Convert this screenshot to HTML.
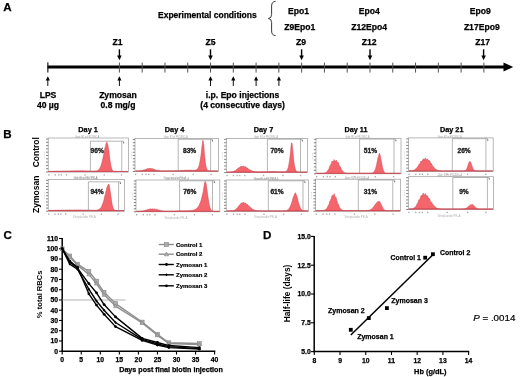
<!DOCTYPE html>
<html><head><meta charset="utf-8"><style>
html,body{margin:0;padding:0;background:#fff;}
svg{display:block;font-family:"Liberation Sans", sans-serif;will-change:transform;}
</style></head><body>
<svg width="520" height="377" viewBox="0 0 520 377">
<rect width="520" height="377" fill="#fff"/>
<text x="3.2" y="11.2" font-size="11.6" font-weight="bold" text-anchor="start" fill="#000" stroke="#000" stroke-width="0.25" >A</text>
<text x="158" y="18.3" font-size="8.5" font-weight="bold" text-anchor="start" fill="#000" stroke="#000" stroke-width="0.25" >Experimental conditions</text>
<path d="M275.6,1.3 Q271.6,1.6 271.6,6 L271.6,14.5 Q271.6,18.3 268.4,18.5 Q271.6,18.7 271.6,22.5 L271.6,31 Q271.6,35.4 275.6,35.6" fill="none" stroke="#222" stroke-width="0.9"/>
<text x="298.6" y="14.2" font-size="8.6" font-weight="bold" text-anchor="middle" fill="#000" stroke="#000" stroke-width="0.25" >Epo1</text>
<text x="299.8" y="30.3" font-size="8.6" font-weight="bold" text-anchor="middle" fill="#000" stroke="#000" stroke-width="0.25" >Z9Epo1</text>
<text x="369.2" y="14.2" font-size="8.6" font-weight="bold" text-anchor="middle" fill="#000" stroke="#000" stroke-width="0.25" >Epo4</text>
<text x="369.2" y="30.3" font-size="8.6" font-weight="bold" text-anchor="middle" fill="#000" stroke="#000" stroke-width="0.25" >Z12Epo4</text>
<text x="480.3" y="14.2" font-size="8.6" font-weight="bold" text-anchor="middle" fill="#000" stroke="#000" stroke-width="0.25" >Epo9</text>
<text x="481.8" y="30.3" font-size="8.6" font-weight="bold" text-anchor="middle" fill="#000" stroke="#000" stroke-width="0.25" >Z17Epo9</text>
<text x="117.5" y="45.3" font-size="8.6" font-weight="bold" text-anchor="middle" fill="#000" stroke="#000" stroke-width="0.25" >Z1</text>
<text x="210.5" y="45.3" font-size="8.6" font-weight="bold" text-anchor="middle" fill="#000" stroke="#000" stroke-width="0.25" >Z5</text>
<text x="301.1" y="45.3" font-size="8.6" font-weight="bold" text-anchor="middle" fill="#000" stroke="#000" stroke-width="0.25" >Z9</text>
<text x="369.2" y="45.3" font-size="8.6" font-weight="bold" text-anchor="middle" fill="#000" stroke="#000" stroke-width="0.25" >Z12</text>
<text x="482.7" y="45.3" font-size="8.6" font-weight="bold" text-anchor="middle" fill="#000" stroke="#000" stroke-width="0.25" >Z17</text>
<rect x="47.5" y="65.5" width="458" height="3" fill="#000"/>
<path d="M503.5,62.4 L513.2,67.0 L503.5,71.6 Z" fill="#000"/>
<rect x="47.3" y="62.3" width="1.1" height="10.2" fill="#111"/>
<rect x="118.90" y="62.6" width="1" height="10" fill="#555"/>
<rect x="141.68" y="62.6" width="1" height="10" fill="#555"/>
<rect x="164.46" y="62.6" width="1" height="10" fill="#555"/>
<rect x="187.24" y="62.6" width="1" height="10" fill="#555"/>
<rect x="210.02" y="62.6" width="1" height="10" fill="#555"/>
<rect x="232.80" y="62.6" width="1" height="10" fill="#555"/>
<rect x="255.58" y="62.6" width="1" height="10" fill="#555"/>
<rect x="278.36" y="62.6" width="1" height="10" fill="#555"/>
<rect x="301.14" y="62.6" width="1" height="10" fill="#555"/>
<rect x="323.92" y="62.6" width="1" height="10" fill="#555"/>
<rect x="346.70" y="62.6" width="1" height="10" fill="#555"/>
<rect x="369.48" y="62.6" width="1" height="10" fill="#555"/>
<rect x="392.26" y="62.6" width="1" height="10" fill="#555"/>
<rect x="415.04" y="62.6" width="1" height="10" fill="#555"/>
<rect x="437.82" y="62.6" width="1" height="10" fill="#555"/>
<rect x="460.60" y="62.6" width="1" height="10" fill="#555"/>
<rect x="483.38" y="62.6" width="1" height="10" fill="#555"/>
<rect x="118.70" y="49.3" width="1.4" height="7" fill="#000"/>
<path d="M117.10,55.6 L121.70,55.6 L119.40,60.2 Z" fill="#000"/>
<rect x="209.80" y="49.3" width="1.4" height="7" fill="#000"/>
<path d="M208.20,55.6 L212.80,55.6 L210.50,60.2 Z" fill="#000"/>
<rect x="300.90" y="49.3" width="1.4" height="7" fill="#000"/>
<path d="M299.30,55.6 L303.90,55.6 L301.60,60.2 Z" fill="#000"/>
<rect x="369.30" y="49.3" width="1.4" height="7" fill="#000"/>
<path d="M367.70,55.6 L372.30,55.6 L370.00,60.2 Z" fill="#000"/>
<rect x="482.90" y="49.3" width="1.4" height="7" fill="#000"/>
<path d="M481.30,55.6 L485.90,55.6 L483.60,60.2 Z" fill="#000"/>
<rect x="47.30" y="79" width="1" height="7" fill="#111"/>
<path d="M45.70,80.6 L49.90,80.6 L47.80,76.2 Z" fill="#000"/>
<rect x="118.90" y="79" width="1" height="7" fill="#111"/>
<path d="M117.30,80.6 L121.50,80.6 L119.40,76.2 Z" fill="#000"/>
<rect x="210.00" y="79" width="1" height="7" fill="#111"/>
<path d="M208.40,80.6 L212.60,80.6 L210.50,76.2 Z" fill="#000"/>
<rect x="232.80" y="79" width="1" height="7" fill="#111"/>
<path d="M231.20,80.6 L235.40,80.6 L233.30,76.2 Z" fill="#000"/>
<rect x="255.60" y="79" width="1" height="7" fill="#111"/>
<path d="M254.00,80.6 L258.20,80.6 L256.10,76.2 Z" fill="#000"/>
<rect x="278.40" y="79" width="1" height="7" fill="#111"/>
<path d="M276.80,80.6 L281.00,80.6 L278.90,76.2 Z" fill="#000"/>
<text x="48" y="97.8" font-size="8.6" font-weight="bold" text-anchor="middle" fill="#000" stroke="#000" stroke-width="0.25" >LPS</text>
<text x="48" y="108" font-size="8.6" font-weight="bold" text-anchor="middle" fill="#000" stroke="#000" stroke-width="0.25" >40 µg</text>
<text x="118" y="97.8" font-size="8.6" font-weight="bold" text-anchor="middle" fill="#000" stroke="#000" stroke-width="0.25" >Zymosan</text>
<text x="118" y="108" font-size="8.6" font-weight="bold" text-anchor="middle" fill="#000" stroke="#000" stroke-width="0.25" >0.8 mg/g</text>
<text x="242.6" y="97.8" font-size="8.6" font-weight="bold" text-anchor="middle" fill="#000" stroke="#000" stroke-width="0.25" >i.p. Epo injections</text>
<text x="242.6" y="108" font-size="8.6" font-weight="bold" text-anchor="middle" fill="#000" stroke="#000" stroke-width="0.25" >(4 consecutive days)</text>
<text x="3.3" y="137.9" font-size="11.6" font-weight="bold" text-anchor="start" fill="#000" stroke="#000" stroke-width="0.25" >B</text>
<text transform="translate(39.3,152.2) rotate(-90)" font-size="8.5" font-weight="bold" text-anchor="middle" fill="#000">Control</text>
<text transform="translate(39.3,194.3) rotate(-90)" font-size="8.5" font-weight="bold" text-anchor="middle" fill="#000">Zymosan</text>
<text x="88.1" y="131.8" font-size="7.3" font-weight="bold" text-anchor="middle" fill="#000" stroke="#000" stroke-width="0.25" >Day 1</text>
<text x="174.6" y="131.8" font-size="7.3" font-weight="bold" text-anchor="middle" fill="#000" stroke="#000" stroke-width="0.25" >Day 4</text>
<text x="263.5" y="131.8" font-size="7.3" font-weight="bold" text-anchor="middle" fill="#000" stroke="#000" stroke-width="0.25" >Day 7</text>
<text x="356" y="131.8" font-size="7.3" font-weight="bold" text-anchor="middle" fill="#000" stroke="#000" stroke-width="0.25" >Day 11</text>
<text x="451.7" y="131.8" font-size="7.3" font-weight="bold" text-anchor="middle" fill="#000" stroke="#000" stroke-width="0.25" >Day 21</text>
<rect x="48.2" y="138.0" width="80.30" height="34.00" fill="#fff" stroke="#9a9a9a" stroke-width="0.7"/>
<line x1="46.00" y1="172.00" x2="48.20" y2="172.00" stroke="#666" stroke-width="0.8"/>
<line x1="46.00" y1="168.70" x2="48.20" y2="168.70" stroke="#666" stroke-width="0.8"/>
<line x1="46.00" y1="165.40" x2="48.20" y2="165.40" stroke="#666" stroke-width="0.8"/>
<line x1="46.00" y1="162.10" x2="48.20" y2="162.10" stroke="#666" stroke-width="0.8"/>
<line x1="46.00" y1="158.80" x2="48.20" y2="158.80" stroke="#666" stroke-width="0.8"/>
<line x1="46.00" y1="155.50" x2="48.20" y2="155.50" stroke="#666" stroke-width="0.8"/>
<line x1="46.00" y1="152.19" x2="48.20" y2="152.19" stroke="#666" stroke-width="0.8"/>
<line x1="46.00" y1="148.89" x2="48.20" y2="148.89" stroke="#666" stroke-width="0.8"/>
<line x1="46.00" y1="145.59" x2="48.20" y2="145.59" stroke="#666" stroke-width="0.8"/>
<line x1="46.00" y1="142.29" x2="48.20" y2="142.29" stroke="#666" stroke-width="0.8"/>
<line x1="46.00" y1="138.99" x2="48.20" y2="138.99" stroke="#666" stroke-width="0.8"/>
<text x="87.3" y="137.7" font-size="2.6" text-anchor="middle" fill="#9a9a9a" textLength="24" lengthAdjust="spacingAndGlyphs">Gate: R1 in FSC/SSC-A</text>
<rect x="48.2" y="174.2" width="1.3" height="1.4" fill="#aaa"/>
<rect x="54.6" y="174.2" width="1.3" height="1.4" fill="#aaa"/>
<rect x="58.2" y="174.2" width="1.3" height="1.4" fill="#aaa"/>
<rect x="60.8" y="174.2" width="1.3" height="1.4" fill="#aaa"/>
<rect x="65.9" y="174.2" width="1.3" height="1.4" fill="#aaa"/>
<rect x="84.3" y="174.2" width="1.3" height="1.4" fill="#aaa"/>
<rect x="103.6" y="174.2" width="1.3" height="1.4" fill="#aaa"/>
<rect x="120.9" y="174.2" width="1.3" height="1.4" fill="#aaa"/>
<text x="86.3" y="179.0" font-size="2.6" text-anchor="middle" fill="#b0b0b0" textLength="23" lengthAdjust="spacingAndGlyphs">Streptavidin PE-A</text>
<text transform="translate(45.0,155.0) rotate(-90)" font-size="2.4" text-anchor="middle" fill="#bbb">Count</text>
<path d="M48.70,171.70 L48.70,171.44 L49.20,171.45 L49.70,171.43 L50.21,171.43 L50.71,171.41 L51.21,171.43 L51.71,171.41 L52.21,171.40 L52.72,171.38 L53.22,171.39 L53.72,171.40 L54.22,171.36 L54.72,171.36 L55.22,171.34 L55.73,171.38 L56.23,171.32 L56.73,171.32 L57.23,171.29 L57.73,171.33 L58.24,171.30 L58.74,171.26 L59.24,171.25 L59.74,171.25 L60.24,171.29 L60.75,171.19 L61.25,171.21 L61.75,171.17 L62.25,171.25 L62.75,171.15 L63.26,171.13 L63.76,171.11 L64.26,171.17 L64.76,171.15 L65.26,171.04 L65.76,171.07 L66.27,171.05 L66.77,171.15 L67.27,170.97 L67.77,171.01 L68.27,170.97 L68.78,171.08 L69.28,170.97 L69.78,170.90 L70.28,170.93 L70.78,170.97 L71.29,171.00 L71.79,170.80 L72.29,170.90 L72.79,170.86 L73.29,171.00 L73.79,170.78 L74.30,170.82 L74.80,170.83 L75.30,170.93 L75.80,170.85 L76.30,170.71 L76.81,170.83 L77.31,170.83 L77.81,170.92 L78.31,170.66 L78.81,170.81 L79.32,170.79 L79.82,170.92 L80.32,170.73 L80.82,170.73 L81.32,170.83 L81.83,170.86 L82.33,170.85 L82.83,170.67 L83.33,170.86 L83.83,170.83 L84.33,170.93 L84.84,170.71 L85.34,170.84 L85.84,170.88 L86.34,170.94 L86.84,170.84 L87.35,170.80 L87.85,170.96 L88.35,170.94 L88.85,170.97 L89.35,170.81 L89.86,170.99 L90.36,170.98 L90.86,171.04 L91.36,170.91 L91.86,170.98 L92.37,171.06 L92.87,171.06 L93.37,171.03 L93.87,170.96 L94.37,171.09 L94.87,171.03 L95.38,171.03 L95.88,170.85 L96.38,170.89 L96.88,170.77 L97.38,170.59 L97.89,170.26 L98.39,169.92 L98.89,169.57 L99.39,168.88 L99.89,168.08 L100.40,166.90 L100.90,165.97 L101.40,164.34 L101.90,162.62 L102.40,160.20 L102.91,158.31 L103.41,156.05 L103.91,153.26 L104.41,150.44 L104.91,147.77 L105.41,146.66 L105.92,144.15 L106.42,143.12 L106.92,141.94 L107.42,143.99 L107.92,145.40 L108.43,148.09 L108.93,151.26 L109.43,155.54 L109.93,159.68 L110.43,162.79 L110.94,165.63 L111.44,167.71 L111.94,169.36 L112.44,170.24 L112.94,170.83 L113.44,171.14 L113.95,171.33 L114.45,171.41 L114.95,171.44 L115.45,171.46 L115.95,171.47 L116.46,171.48 L116.96,171.48 L117.46,171.48 L117.96,171.48 L118.46,171.49 L118.97,171.49 L119.47,171.49 L119.97,171.49 L120.47,171.49 L120.97,171.49 L121.48,171.49 L121.98,171.49 L122.48,171.49 L122.98,171.50 L123.48,171.49 L123.98,171.49 L124.49,171.49 L124.99,171.50 L125.49,171.50 L125.99,171.50 L126.49,171.50 L127.00,171.50 L127.50,171.50 L128.00,171.50 L128.00,171.70 Z" fill="#f4666c" stroke="#c43c48" stroke-width="0.45" stroke-linejoin="round"/>
<line x1="48.7" y1="171.40" x2="128.00" y2="171.40" stroke="#c43c48" stroke-width="0.6"/>
<path d="M90.4,172.0 L90.4,141.20 L123.8,141.20 M121.8,141.20 L121.8,172.0" fill="none" stroke="#858585" stroke-width="0.6"/>
<rect x="123.1" y="141.80" width="1.1" height="1.6" fill="#777"/>
<text x="90.6" y="152.8" font-size="6.6" font-weight="bold" text-anchor="start" fill="#222" stroke="#222" stroke-width="0.35" >96%</text>
<rect x="135.0" y="138.5" width="83.40" height="33.00" fill="#fff" stroke="#9a9a9a" stroke-width="0.7"/>
<line x1="132.80" y1="171.50" x2="135.00" y2="171.50" stroke="#666" stroke-width="0.8"/>
<line x1="132.80" y1="168.30" x2="135.00" y2="168.30" stroke="#666" stroke-width="0.8"/>
<line x1="132.80" y1="165.09" x2="135.00" y2="165.09" stroke="#666" stroke-width="0.8"/>
<line x1="132.80" y1="161.89" x2="135.00" y2="161.89" stroke="#666" stroke-width="0.8"/>
<line x1="132.80" y1="158.68" x2="135.00" y2="158.68" stroke="#666" stroke-width="0.8"/>
<line x1="132.80" y1="155.48" x2="135.00" y2="155.48" stroke="#666" stroke-width="0.8"/>
<line x1="132.80" y1="152.28" x2="135.00" y2="152.28" stroke="#666" stroke-width="0.8"/>
<line x1="132.80" y1="149.07" x2="135.00" y2="149.07" stroke="#666" stroke-width="0.8"/>
<line x1="132.80" y1="145.87" x2="135.00" y2="145.87" stroke="#666" stroke-width="0.8"/>
<line x1="132.80" y1="142.67" x2="135.00" y2="142.67" stroke="#666" stroke-width="0.8"/>
<line x1="132.80" y1="139.46" x2="135.00" y2="139.46" stroke="#666" stroke-width="0.8"/>
<text x="175.7" y="138.2" font-size="2.6" text-anchor="middle" fill="#9a9a9a" textLength="24" lengthAdjust="spacingAndGlyphs">Gate: R1 in FSC/SSC-A</text>
<rect x="135.0" y="173.7" width="1.3" height="1.4" fill="#aaa"/>
<rect x="141.7" y="173.7" width="1.3" height="1.4" fill="#aaa"/>
<rect x="145.4" y="173.7" width="1.3" height="1.4" fill="#aaa"/>
<rect x="148.1" y="173.7" width="1.3" height="1.4" fill="#aaa"/>
<rect x="153.3" y="173.7" width="1.3" height="1.4" fill="#aaa"/>
<rect x="172.5" y="173.7" width="1.3" height="1.4" fill="#aaa"/>
<rect x="192.5" y="173.7" width="1.3" height="1.4" fill="#aaa"/>
<rect x="210.5" y="173.7" width="1.3" height="1.4" fill="#aaa"/>
<text x="174.7" y="178.5" font-size="2.6" text-anchor="middle" fill="#b0b0b0" textLength="23" lengthAdjust="spacingAndGlyphs">Streptavidin PE-A</text>
<text transform="translate(131.8,155.0) rotate(-90)" font-size="2.4" text-anchor="middle" fill="#bbb">Count</text>
<path d="M135.50,171.20 L135.50,171.00 L136.00,171.00 L136.50,170.99 L137.01,170.99 L137.51,170.98 L138.01,170.97 L138.51,170.96 L139.02,170.93 L139.52,170.91 L140.02,170.87 L140.52,170.83 L141.03,170.74 L141.53,170.66 L142.03,170.58 L142.53,170.49 L143.04,170.32 L143.54,170.10 L144.04,170.02 L144.54,169.83 L145.05,169.70 L145.55,169.25 L146.05,169.24 L146.55,169.04 L147.06,169.01 L147.56,168.57 L148.06,168.47 L148.56,168.55 L149.07,168.51 L149.57,168.42 L150.07,168.11 L150.57,168.50 L151.08,168.45 L151.58,168.65 L152.08,168.37 L152.58,168.76 L153.09,168.95 L153.59,169.17 L154.09,169.20 L154.59,169.37 L155.10,169.74 L155.60,169.88 L156.10,170.07 L156.60,170.13 L157.10,170.39 L157.61,170.50 L158.11,170.62 L158.61,170.67 L159.11,170.77 L159.62,170.84 L160.12,170.88 L160.62,170.91 L161.12,170.93 L161.63,170.96 L162.13,170.97 L162.63,170.98 L163.13,170.98 L163.64,170.99 L164.14,170.99 L164.64,170.99 L165.14,170.99 L165.65,170.99 L166.15,170.99 L166.65,170.99 L167.15,170.99 L167.66,170.98 L168.16,170.98 L168.66,170.98 L169.16,170.97 L169.67,170.96 L170.17,170.97 L170.67,170.96 L171.17,170.95 L171.68,170.94 L172.18,170.93 L172.68,170.94 L173.18,170.91 L173.69,170.90 L174.19,170.87 L174.69,170.90 L175.19,170.86 L175.70,170.84 L176.20,170.80 L176.70,170.81 L177.20,170.81 L177.70,170.74 L178.21,170.72 L178.71,170.68 L179.21,170.75 L179.71,170.63 L180.22,170.62 L180.72,170.54 L181.22,170.64 L181.72,170.56 L182.23,170.47 L182.73,170.43 L183.23,170.45 L183.73,170.52 L184.24,170.32 L184.74,170.34 L185.24,170.27 L185.74,170.47 L186.25,170.25 L186.75,170.24 L187.25,170.18 L187.75,170.33 L188.26,170.29 L188.76,170.12 L189.26,170.18 L189.76,170.19 L190.27,170.37 L190.77,170.10 L191.27,170.20 L191.77,170.16 L192.28,170.38 L192.78,170.21 L193.28,170.18 L193.78,170.21 L194.29,170.29 L194.79,170.28 L195.29,170.03 L195.79,170.03 L196.30,169.83 L196.80,169.71 L197.30,169.04 L197.80,168.48 L198.30,167.58 L198.81,166.52 L199.31,164.66 L199.81,162.24 L200.31,159.67 L200.82,156.35 L201.32,152.71 L201.82,147.34 L202.32,143.82 L202.83,140.19 L203.33,141.41 L203.83,145.67 L204.33,152.18 L204.84,157.96 L205.34,162.47 L205.84,165.53 L206.34,167.56 L206.85,169.06 L207.35,169.89 L207.85,170.40 L208.35,170.63 L208.86,170.81 L209.36,170.89 L209.86,170.94 L210.36,170.95 L210.87,170.96 L211.37,170.98 L211.87,170.98 L212.37,170.98 L212.88,170.98 L213.38,170.99 L213.88,170.99 L214.38,170.99 L214.89,170.99 L215.39,170.99 L215.89,171.00 L216.39,171.00 L216.90,171.00 L217.40,171.00 L217.90,171.00 L217.90,171.20 Z" fill="#f4666c" stroke="#c43c48" stroke-width="0.45" stroke-linejoin="round"/>
<line x1="135.5" y1="170.90" x2="217.90" y2="170.90" stroke="#c43c48" stroke-width="0.6"/>
<path d="M178.2,171.5 L178.2,139.30 L212.6,139.30 M210.6,139.30 L210.6,171.5" fill="none" stroke="#858585" stroke-width="0.6"/>
<rect x="211.9" y="139.90" width="1.1" height="1.6" fill="#777"/>
<text x="183" y="152.8" font-size="6.6" font-weight="bold" text-anchor="start" fill="#222" stroke="#222" stroke-width="0.35" >83%</text>
<rect x="226.3" y="138.4" width="81.30" height="34.20" fill="#fff" stroke="#9a9a9a" stroke-width="0.7"/>
<line x1="224.10" y1="172.60" x2="226.30" y2="172.60" stroke="#666" stroke-width="0.8"/>
<line x1="224.10" y1="169.28" x2="226.30" y2="169.28" stroke="#666" stroke-width="0.8"/>
<line x1="224.10" y1="165.96" x2="226.30" y2="165.96" stroke="#666" stroke-width="0.8"/>
<line x1="224.10" y1="162.64" x2="226.30" y2="162.64" stroke="#666" stroke-width="0.8"/>
<line x1="224.10" y1="159.32" x2="226.30" y2="159.32" stroke="#666" stroke-width="0.8"/>
<line x1="224.10" y1="156.00" x2="226.30" y2="156.00" stroke="#666" stroke-width="0.8"/>
<line x1="224.10" y1="152.68" x2="226.30" y2="152.68" stroke="#666" stroke-width="0.8"/>
<line x1="224.10" y1="149.36" x2="226.30" y2="149.36" stroke="#666" stroke-width="0.8"/>
<line x1="224.10" y1="146.04" x2="226.30" y2="146.04" stroke="#666" stroke-width="0.8"/>
<line x1="224.10" y1="142.72" x2="226.30" y2="142.72" stroke="#666" stroke-width="0.8"/>
<line x1="224.10" y1="139.40" x2="226.30" y2="139.40" stroke="#666" stroke-width="0.8"/>
<text x="266.0" y="138.1" font-size="2.6" text-anchor="middle" fill="#9a9a9a" textLength="24" lengthAdjust="spacingAndGlyphs">Gate: R1 in FSC/SSC-A</text>
<rect x="226.3" y="174.8" width="1.3" height="1.4" fill="#aaa"/>
<rect x="232.8" y="174.8" width="1.3" height="1.4" fill="#aaa"/>
<rect x="236.5" y="174.8" width="1.3" height="1.4" fill="#aaa"/>
<rect x="239.1" y="174.8" width="1.3" height="1.4" fill="#aaa"/>
<rect x="244.2" y="174.8" width="1.3" height="1.4" fill="#aaa"/>
<rect x="262.9" y="174.8" width="1.3" height="1.4" fill="#aaa"/>
<rect x="282.4" y="174.8" width="1.3" height="1.4" fill="#aaa"/>
<rect x="299.9" y="174.8" width="1.3" height="1.4" fill="#aaa"/>
<text x="265.0" y="179.6" font-size="2.6" text-anchor="middle" fill="#b0b0b0" textLength="23" lengthAdjust="spacingAndGlyphs">Streptavidin PE-A</text>
<text transform="translate(223.1,155.5) rotate(-90)" font-size="2.4" text-anchor="middle" fill="#bbb">Count</text>
<path d="M226.80,172.30 L226.80,172.10 L227.30,172.09 L227.80,172.09 L228.31,172.08 L228.81,172.08 L229.31,172.06 L229.81,172.04 L230.31,172.00 L230.81,171.97 L231.32,171.92 L231.82,171.84 L232.32,171.73 L232.82,171.61 L233.32,171.53 L233.83,171.28 L234.33,171.06 L234.83,170.69 L235.33,170.64 L235.83,170.18 L236.34,169.80 L236.84,169.21 L237.34,169.06 L237.84,168.80 L238.34,168.06 L238.85,167.64 L239.35,167.14 L239.85,167.57 L240.35,166.65 L240.85,166.53 L241.35,165.97 L241.86,166.73 L242.36,166.41 L242.86,166.13 L243.36,166.04 L243.86,166.40 L244.37,167.01 L244.87,166.44 L245.37,166.84 L245.87,166.88 L246.37,167.92 L246.88,167.66 L247.38,168.01 L247.88,168.22 L248.38,168.96 L248.88,169.26 L249.38,169.32 L249.89,169.73 L250.39,170.06 L250.89,170.55 L251.39,170.53 L251.89,170.84 L252.40,171.00 L252.90,171.32 L253.40,171.37 L253.90,171.46 L254.40,171.58 L254.91,171.69 L255.41,171.77 L255.91,171.74 L256.41,171.81 L256.91,171.83 L257.41,171.89 L257.92,171.83 L258.42,171.84 L258.92,171.84 L259.42,171.88 L259.92,171.84 L260.43,171.78 L260.93,171.81 L261.43,171.80 L261.93,171.83 L262.43,171.70 L262.94,171.75 L263.44,171.72 L263.94,171.79 L264.44,171.66 L264.94,171.65 L265.44,171.68 L265.95,171.71 L266.45,171.68 L266.95,171.55 L267.45,171.64 L267.95,171.62 L268.46,171.69 L268.96,171.50 L269.46,171.59 L269.96,171.59 L270.46,171.66 L270.97,171.54 L271.47,171.50 L271.97,171.61 L272.47,171.60 L272.97,171.62 L273.47,171.46 L273.98,171.62 L274.48,171.60 L274.98,171.67 L275.48,171.52 L275.98,171.59 L276.49,171.65 L276.99,171.68 L277.49,171.64 L277.99,171.58 L278.49,171.72 L279.00,171.70 L279.50,171.74 L280.00,171.63 L280.50,171.75 L281.00,171.76 L281.50,171.80 L282.01,171.73 L282.51,171.76 L283.01,171.83 L283.51,171.81 L284.01,171.78 L284.52,171.69 L285.02,171.71 L285.52,171.55 L286.02,171.34 L286.52,170.89 L287.03,170.38 L287.53,169.52 L288.03,168.19 L288.53,166.22 L289.03,163.58 L289.53,160.69 L290.04,156.29 L290.54,151.64 L291.04,145.91 L291.54,143.08 L292.04,142.81 L292.55,147.69 L293.05,152.78 L293.55,158.36 L294.05,162.80 L294.55,165.81 L295.06,168.08 L295.56,169.59 L296.06,170.68 L296.56,171.25 L297.06,171.62 L297.56,171.82 L298.07,171.96 L298.57,172.02 L299.07,172.05 L299.57,172.07 L300.07,172.08 L300.58,172.09 L301.08,172.09 L301.58,172.09 L302.08,172.09 L302.58,172.10 L303.09,172.10 L303.59,172.10 L304.09,172.10 L304.59,172.10 L305.09,172.10 L305.59,172.10 L306.10,172.10 L306.60,172.10 L307.10,172.10 L307.10,172.30 Z" fill="#f4666c" stroke="#c43c48" stroke-width="0.45" stroke-linejoin="round"/>
<line x1="226.8" y1="172.00" x2="307.10" y2="172.00" stroke="#c43c48" stroke-width="0.6"/>
<path d="M267.4,172.6 L267.4,139.20 L302.5,139.20 M300.5,139.20 L300.5,172.6" fill="none" stroke="#858585" stroke-width="0.6"/>
<rect x="301.8" y="139.80" width="1.1" height="1.6" fill="#777"/>
<text x="270.4" y="152.8" font-size="6.6" font-weight="bold" text-anchor="start" fill="#222" stroke="#222" stroke-width="0.35" >70%</text>
<rect x="316.0" y="138.3" width="85.00" height="35.50" fill="#fff" stroke="#9a9a9a" stroke-width="0.7"/>
<line x1="313.80" y1="173.80" x2="316.00" y2="173.80" stroke="#666" stroke-width="0.8"/>
<line x1="313.80" y1="170.35" x2="316.00" y2="170.35" stroke="#666" stroke-width="0.8"/>
<line x1="313.80" y1="166.91" x2="316.00" y2="166.91" stroke="#666" stroke-width="0.8"/>
<line x1="313.80" y1="163.46" x2="316.00" y2="163.46" stroke="#666" stroke-width="0.8"/>
<line x1="313.80" y1="160.01" x2="316.00" y2="160.01" stroke="#666" stroke-width="0.8"/>
<line x1="313.80" y1="156.57" x2="316.00" y2="156.57" stroke="#666" stroke-width="0.8"/>
<line x1="313.80" y1="153.12" x2="316.00" y2="153.12" stroke="#666" stroke-width="0.8"/>
<line x1="313.80" y1="149.67" x2="316.00" y2="149.67" stroke="#666" stroke-width="0.8"/>
<line x1="313.80" y1="146.23" x2="316.00" y2="146.23" stroke="#666" stroke-width="0.8"/>
<line x1="313.80" y1="142.78" x2="316.00" y2="142.78" stroke="#666" stroke-width="0.8"/>
<line x1="313.80" y1="139.33" x2="316.00" y2="139.33" stroke="#666" stroke-width="0.8"/>
<text x="357.5" y="138.0" font-size="2.6" text-anchor="middle" fill="#9a9a9a" textLength="24" lengthAdjust="spacingAndGlyphs">Gate: R1 in FSC/SSC-A</text>
<rect x="316.0" y="176.0" width="1.3" height="1.4" fill="#aaa"/>
<rect x="322.8" y="176.0" width="1.3" height="1.4" fill="#aaa"/>
<rect x="326.6" y="176.0" width="1.3" height="1.4" fill="#aaa"/>
<rect x="329.3" y="176.0" width="1.3" height="1.4" fill="#aaa"/>
<rect x="334.7" y="176.0" width="1.3" height="1.4" fill="#aaa"/>
<rect x="354.2" y="176.0" width="1.3" height="1.4" fill="#aaa"/>
<rect x="374.6" y="176.0" width="1.3" height="1.4" fill="#aaa"/>
<rect x="392.9" y="176.0" width="1.3" height="1.4" fill="#aaa"/>
<text x="356.5" y="180.8" font-size="2.6" text-anchor="middle" fill="#b0b0b0" textLength="23" lengthAdjust="spacingAndGlyphs">Streptavidin PE-A</text>
<text transform="translate(312.8,156.1) rotate(-90)" font-size="2.4" text-anchor="middle" fill="#bbb">Count</text>
<path d="M316.50,173.50 L316.50,173.30 L317.00,173.30 L317.50,173.30 L318.00,173.30 L318.50,173.30 L319.00,173.30 L319.50,173.30 L320.00,173.30 L320.50,173.30 L321.00,173.30 L321.50,173.30 L322.00,173.29 L322.50,173.29 L323.00,173.27 L323.50,173.25 L324.00,173.20 L324.50,173.14 L325.00,173.00 L325.50,172.79 L326.00,172.55 L326.50,172.20 L327.00,171.77 L327.50,170.81 L328.00,170.26 L328.50,169.28 L329.00,168.72 L329.50,166.78 L330.00,165.79 L330.50,164.94 L331.00,164.34 L331.50,163.08 L332.00,161.12 L332.50,161.81 L333.00,161.17 L333.50,161.70 L334.00,159.44 L334.50,160.64 L335.00,160.73 L335.50,161.53 L336.00,160.41 L336.50,160.37 L337.00,161.96 L337.50,162.37 L338.00,163.19 L338.50,162.56 L339.00,164.79 L339.50,165.54 L340.00,166.92 L340.50,167.04 L341.00,168.36 L341.50,169.52 L342.00,170.31 L342.50,170.90 L343.00,171.35 L343.50,172.07 L344.00,172.39 L344.50,172.70 L345.00,172.84 L345.50,173.04 L346.00,173.14 L346.50,173.20 L347.00,173.24 L347.50,173.27 L348.00,173.28 L348.50,173.29 L349.00,173.30 L349.50,173.30 L350.00,173.30 L350.50,173.30 L351.00,173.30 L351.50,173.30 L352.00,173.30 L352.50,173.30 L353.00,173.30 L353.50,173.30 L354.00,173.30 L354.50,173.30 L355.00,173.30 L355.50,173.30 L356.00,173.30 L356.50,173.30 L357.00,173.30 L357.50,173.30 L358.00,173.30 L358.50,173.30 L359.00,173.30 L359.50,173.30 L360.00,173.30 L360.50,173.30 L361.00,173.30 L361.50,173.30 L362.00,173.30 L362.50,173.30 L363.00,173.30 L363.50,173.30 L364.00,173.30 L364.50,173.30 L365.00,173.30 L365.50,173.30 L366.00,173.30 L366.50,173.30 L367.00,173.30 L367.50,173.30 L368.00,173.30 L368.50,173.30 L369.00,173.29 L369.50,173.29 L370.00,173.28 L370.50,173.26 L371.00,173.23 L371.50,173.17 L372.00,173.08 L372.50,172.92 L373.00,172.68 L373.50,172.30 L374.00,171.80 L374.50,171.07 L375.00,169.94 L375.50,168.63 L376.00,166.92 L376.50,165.21 L377.00,162.54 L377.50,160.21 L378.00,157.69 L378.50,156.17 L379.00,154.32 L379.50,153.25 L380.00,154.38 L380.50,156.62 L381.00,159.65 L381.50,161.97 L382.00,164.95 L382.50,167.28 L383.00,169.34 L383.50,170.62 L384.00,171.63 L384.50,172.31 L385.00,172.75 L385.50,173.00 L386.00,173.14 L386.50,173.22 L387.00,173.26 L387.50,173.28 L388.00,173.29 L388.50,173.30 L389.00,173.30 L389.50,173.30 L390.00,173.30 L390.50,173.30 L391.00,173.30 L391.50,173.30 L392.00,173.30 L392.50,173.30 L393.00,173.30 L393.50,173.30 L394.00,173.30 L394.50,173.30 L395.00,173.30 L395.50,173.30 L396.00,173.30 L396.50,173.30 L397.00,173.30 L397.50,173.30 L398.00,173.30 L398.50,173.30 L399.00,173.30 L399.50,173.30 L400.00,173.30 L400.50,173.30 L400.50,173.50 Z" fill="#f4666c" stroke="#c43c48" stroke-width="0.45" stroke-linejoin="round"/>
<line x1="316.5" y1="173.20" x2="400.50" y2="173.20" stroke="#c43c48" stroke-width="0.6"/>
<path d="M359.6,173.8 L359.6,139.10 L396.0,139.10 M394.0,139.10 L394.0,173.8" fill="none" stroke="#858585" stroke-width="0.6"/>
<rect x="395.3" y="139.70" width="1.1" height="1.6" fill="#777"/>
<text x="363.8" y="152.8" font-size="6.6" font-weight="bold" text-anchor="start" fill="#222" stroke="#222" stroke-width="0.35" >51%</text>
<rect x="408.4" y="137.9" width="84.80" height="33.50" fill="#fff" stroke="#9a9a9a" stroke-width="0.7"/>
<line x1="406.20" y1="171.40" x2="408.40" y2="171.40" stroke="#666" stroke-width="0.8"/>
<line x1="406.20" y1="168.15" x2="408.40" y2="168.15" stroke="#666" stroke-width="0.8"/>
<line x1="406.20" y1="164.90" x2="408.40" y2="164.90" stroke="#666" stroke-width="0.8"/>
<line x1="406.20" y1="161.64" x2="408.40" y2="161.64" stroke="#666" stroke-width="0.8"/>
<line x1="406.20" y1="158.39" x2="408.40" y2="158.39" stroke="#666" stroke-width="0.8"/>
<line x1="406.20" y1="155.14" x2="408.40" y2="155.14" stroke="#666" stroke-width="0.8"/>
<line x1="406.20" y1="151.89" x2="408.40" y2="151.89" stroke="#666" stroke-width="0.8"/>
<line x1="406.20" y1="148.63" x2="408.40" y2="148.63" stroke="#666" stroke-width="0.8"/>
<line x1="406.20" y1="145.38" x2="408.40" y2="145.38" stroke="#666" stroke-width="0.8"/>
<line x1="406.20" y1="142.13" x2="408.40" y2="142.13" stroke="#666" stroke-width="0.8"/>
<line x1="406.20" y1="138.88" x2="408.40" y2="138.88" stroke="#666" stroke-width="0.8"/>
<text x="449.8" y="137.6" font-size="2.6" text-anchor="middle" fill="#9a9a9a" textLength="24" lengthAdjust="spacingAndGlyphs">Gate: R1 in FSC/SSC-A</text>
<rect x="408.4" y="173.6" width="1.3" height="1.4" fill="#aaa"/>
<rect x="415.2" y="173.6" width="1.3" height="1.4" fill="#aaa"/>
<rect x="419.0" y="173.6" width="1.3" height="1.4" fill="#aaa"/>
<rect x="421.7" y="173.6" width="1.3" height="1.4" fill="#aaa"/>
<rect x="427.1" y="173.6" width="1.3" height="1.4" fill="#aaa"/>
<rect x="446.6" y="173.6" width="1.3" height="1.4" fill="#aaa"/>
<rect x="466.9" y="173.6" width="1.3" height="1.4" fill="#aaa"/>
<rect x="485.1" y="173.6" width="1.3" height="1.4" fill="#aaa"/>
<text x="448.8" y="178.4" font-size="2.6" text-anchor="middle" fill="#b0b0b0" textLength="23" lengthAdjust="spacingAndGlyphs">Streptavidin PE-A</text>
<text transform="translate(405.2,154.7) rotate(-90)" font-size="2.4" text-anchor="middle" fill="#bbb">Count</text>
<path d="M408.90,171.10 L408.90,170.89 L409.40,170.88 L409.90,170.86 L410.41,170.84 L410.91,170.82 L411.41,170.77 L411.91,170.70 L412.41,170.59 L412.91,170.53 L413.42,170.35 L413.92,170.17 L414.42,169.77 L414.92,169.63 L415.42,169.28 L415.93,168.81 L416.43,168.08 L416.93,167.50 L417.43,167.40 L417.93,166.31 L418.43,165.61 L418.94,164.15 L419.44,164.71 L419.94,163.40 L420.44,162.71 L420.94,161.00 L421.44,161.44 L421.95,161.45 L422.45,160.09 L422.95,159.44 L423.45,158.73 L423.95,160.68 L424.46,158.97 L424.96,159.16 L425.46,157.89 L425.96,160.13 L426.46,159.55 L426.96,159.14 L427.47,158.73 L427.97,159.72 L428.47,161.25 L428.97,160.19 L429.47,160.98 L429.98,161.06 L430.48,163.49 L430.98,163.04 L431.48,163.85 L431.98,164.21 L432.48,165.82 L432.99,166.48 L433.49,166.73 L433.99,167.44 L434.49,168.09 L434.99,168.95 L435.50,169.03 L436.00,169.51 L436.50,169.77 L437.00,170.20 L437.50,170.31 L438.00,170.46 L438.51,170.58 L439.01,170.70 L439.51,170.77 L440.01,170.80 L440.51,170.84 L441.01,170.86 L441.52,170.88 L442.02,170.88 L442.52,170.89 L443.02,170.89 L443.52,170.90 L444.03,170.90 L444.53,170.90 L445.03,170.90 L445.53,170.90 L446.03,170.90 L446.53,170.90 L447.04,170.90 L447.54,170.90 L448.04,170.90 L448.54,170.90 L449.04,170.90 L449.55,170.90 L450.05,170.90 L450.55,170.90 L451.05,170.90 L451.55,170.90 L452.05,170.90 L452.56,170.90 L453.06,170.90 L453.56,170.90 L454.06,170.90 L454.56,170.90 L455.07,170.90 L455.57,170.90 L456.07,170.90 L456.57,170.90 L457.07,170.90 L457.57,170.90 L458.08,170.90 L458.58,170.90 L459.08,170.90 L459.58,170.90 L460.08,170.90 L460.59,170.90 L461.09,170.90 L461.59,170.90 L462.09,170.90 L462.59,170.90 L463.09,170.89 L463.60,170.88 L464.10,170.85 L464.60,170.78 L465.10,170.64 L465.60,170.36 L466.10,169.84 L466.61,169.06 L467.11,168.00 L467.61,166.56 L468.11,164.93 L468.61,163.10 L469.12,162.21 L469.62,161.46 L470.12,161.64 L470.62,161.97 L471.12,163.41 L471.62,164.90 L472.13,166.38 L472.63,167.65 L473.13,168.75 L473.63,169.63 L474.13,170.16 L474.64,170.50 L475.14,170.70 L475.64,170.81 L476.14,170.86 L476.64,170.88 L477.14,170.89 L477.65,170.90 L478.15,170.90 L478.65,170.90 L479.15,170.90 L479.65,170.90 L480.16,170.90 L480.66,170.90 L481.16,170.90 L481.66,170.90 L482.16,170.90 L482.66,170.90 L483.17,170.90 L483.67,170.90 L484.17,170.90 L484.67,170.90 L485.17,170.90 L485.67,170.90 L486.18,170.90 L486.68,170.90 L487.18,170.90 L487.68,170.90 L488.18,170.90 L488.69,170.90 L489.19,170.90 L489.69,170.90 L490.19,170.90 L490.69,170.90 L491.19,170.90 L491.70,170.90 L492.20,170.90 L492.70,170.90 L492.70,171.10 Z" fill="#f4666c" stroke="#c43c48" stroke-width="0.45" stroke-linejoin="round"/>
<line x1="408.9" y1="170.80" x2="492.70" y2="170.80" stroke="#c43c48" stroke-width="0.6"/>
<path d="M452.3,171.4 L452.3,138.70 L487.9,138.70 M485.9,138.70 L485.9,171.4" fill="none" stroke="#858585" stroke-width="0.6"/>
<rect x="487.2" y="139.30" width="1.1" height="1.6" fill="#777"/>
<text x="457.5" y="152.8" font-size="6.6" font-weight="bold" text-anchor="start" fill="#222" stroke="#222" stroke-width="0.35" >26%</text>
<rect x="48.2" y="179.4" width="76.30" height="31.80" fill="#fff" stroke="#9a9a9a" stroke-width="0.7"/>
<line x1="46.00" y1="211.20" x2="48.20" y2="211.20" stroke="#666" stroke-width="0.8"/>
<line x1="46.00" y1="208.11" x2="48.20" y2="208.11" stroke="#666" stroke-width="0.8"/>
<line x1="46.00" y1="205.03" x2="48.20" y2="205.03" stroke="#666" stroke-width="0.8"/>
<line x1="46.00" y1="201.94" x2="48.20" y2="201.94" stroke="#666" stroke-width="0.8"/>
<line x1="46.00" y1="198.85" x2="48.20" y2="198.85" stroke="#666" stroke-width="0.8"/>
<line x1="46.00" y1="195.76" x2="48.20" y2="195.76" stroke="#666" stroke-width="0.8"/>
<line x1="46.00" y1="192.68" x2="48.20" y2="192.68" stroke="#666" stroke-width="0.8"/>
<line x1="46.00" y1="189.59" x2="48.20" y2="189.59" stroke="#666" stroke-width="0.8"/>
<line x1="46.00" y1="186.50" x2="48.20" y2="186.50" stroke="#666" stroke-width="0.8"/>
<line x1="46.00" y1="183.41" x2="48.20" y2="183.41" stroke="#666" stroke-width="0.8"/>
<line x1="46.00" y1="180.33" x2="48.20" y2="180.33" stroke="#666" stroke-width="0.8"/>
<text x="85.3" y="179.1" font-size="2.6" text-anchor="middle" fill="#9a9a9a" textLength="24" lengthAdjust="spacingAndGlyphs">Gate: R1 in FSC/SSC-A</text>
<rect x="48.2" y="213.4" width="1.3" height="1.4" fill="#aaa"/>
<rect x="54.3" y="213.4" width="1.3" height="1.4" fill="#aaa"/>
<rect x="57.7" y="213.4" width="1.3" height="1.4" fill="#aaa"/>
<rect x="60.2" y="213.4" width="1.3" height="1.4" fill="#aaa"/>
<rect x="65.0" y="213.4" width="1.3" height="1.4" fill="#aaa"/>
<rect x="82.5" y="213.4" width="1.3" height="1.4" fill="#aaa"/>
<rect x="100.8" y="213.4" width="1.3" height="1.4" fill="#aaa"/>
<rect x="117.3" y="213.4" width="1.3" height="1.4" fill="#aaa"/>
<text x="84.3" y="218.2" font-size="2.6" text-anchor="middle" fill="#b0b0b0" textLength="23" lengthAdjust="spacingAndGlyphs">Streptavidin PE-A</text>
<text transform="translate(45.0,195.3) rotate(-90)" font-size="2.4" text-anchor="middle" fill="#bbb">Count</text>
<path d="M48.70,210.90 L48.70,210.38 L49.20,210.46 L49.70,210.37 L50.21,210.37 L50.71,210.31 L51.21,210.42 L51.71,210.35 L52.21,210.32 L52.72,210.27 L53.22,210.33 L53.72,210.36 L54.22,210.26 L54.72,210.26 L55.23,210.22 L55.73,210.36 L56.23,210.22 L56.73,210.22 L57.23,210.16 L57.74,210.29 L58.24,210.23 L58.74,210.15 L59.24,210.15 L59.74,210.17 L60.25,210.27 L60.75,210.09 L61.25,210.13 L61.75,210.08 L62.25,210.25 L62.76,210.09 L63.26,210.07 L63.76,210.05 L64.26,210.16 L64.76,210.15 L65.27,209.99 L65.77,210.05 L66.27,210.04 L66.77,210.19 L67.27,209.95 L67.78,210.02 L68.28,209.99 L68.78,210.15 L69.28,210.01 L69.78,209.94 L70.29,210.00 L70.79,210.06 L71.29,210.11 L71.79,209.88 L72.29,210.01 L72.80,209.98 L73.30,210.14 L73.80,209.90 L74.30,209.96 L74.80,209.98 L75.31,210.09 L75.81,210.01 L76.31,209.88 L76.81,210.02 L77.31,210.02 L77.82,210.11 L78.32,209.87 L78.82,210.02 L79.32,210.01 L79.82,210.14 L80.33,209.95 L80.83,209.96 L81.33,210.06 L81.83,210.09 L82.33,210.08 L82.84,209.91 L83.34,210.10 L83.84,210.07 L84.34,210.17 L84.84,209.95 L85.35,210.08 L85.85,210.11 L86.35,210.18 L86.85,210.07 L87.35,210.03 L87.86,210.18 L88.36,210.16 L88.86,210.19 L89.36,210.03 L89.86,210.21 L90.37,210.19 L90.87,210.25 L91.37,210.11 L91.87,210.18 L92.37,210.26 L92.88,210.25 L93.38,210.21 L93.88,210.15 L94.38,210.29 L94.88,210.23 L95.39,210.24 L95.89,210.09 L96.39,210.17 L96.89,210.10 L97.39,210.02 L97.90,209.81 L98.40,209.65 L98.90,209.51 L99.40,209.14 L99.90,208.72 L100.41,208.07 L100.91,207.64 L101.41,206.73 L101.91,205.77 L102.41,204.33 L102.92,203.22 L103.42,201.74 L103.92,199.85 L104.42,197.74 L104.92,195.57 L105.43,194.17 L105.93,191.53 L106.43,189.57 L106.93,187.01 L107.43,186.61 L107.94,185.05 L108.44,184.31 L108.94,184.02 L109.44,186.23 L109.94,189.49 L110.45,192.42 L110.95,196.20 L111.45,199.66 L111.95,203.25 L112.45,205.49 L112.96,207.38 L113.46,208.61 L113.96,209.54 L114.46,210.03 L114.96,210.30 L115.47,210.46 L115.97,210.55 L116.47,210.61 L116.97,210.60 L117.47,210.62 L117.98,210.62 L118.48,210.65 L118.98,210.64 L119.48,210.64 L119.98,210.64 L120.49,210.65 L120.99,210.66 L121.49,210.65 L121.99,210.65 L122.49,210.66 L123.00,210.67 L123.50,210.66 L124.00,210.66 L124.00,210.90 Z" fill="#f4666c" stroke="#c43c48" stroke-width="0.45" stroke-linejoin="round"/>
<line x1="48.7" y1="210.60" x2="124.00" y2="210.60" stroke="#c43c48" stroke-width="0.6"/>
<path d="M88.4,211.2 L88.4,181.80 L120.6,181.80 M118.6,181.80 L118.6,211.2" fill="none" stroke="#858585" stroke-width="0.6"/>
<rect x="119.89999999999999" y="182.40" width="1.1" height="1.6" fill="#777"/>
<text x="90.4" y="193.5" font-size="6.6" font-weight="bold" text-anchor="start" fill="#222" stroke="#222" stroke-width="0.35" >94%</text>
<rect x="136.0" y="180.0" width="83.80" height="31.80" fill="#fff" stroke="#9a9a9a" stroke-width="0.7"/>
<line x1="133.80" y1="211.80" x2="136.00" y2="211.80" stroke="#666" stroke-width="0.8"/>
<line x1="133.80" y1="208.71" x2="136.00" y2="208.71" stroke="#666" stroke-width="0.8"/>
<line x1="133.80" y1="205.63" x2="136.00" y2="205.63" stroke="#666" stroke-width="0.8"/>
<line x1="133.80" y1="202.54" x2="136.00" y2="202.54" stroke="#666" stroke-width="0.8"/>
<line x1="133.80" y1="199.45" x2="136.00" y2="199.45" stroke="#666" stroke-width="0.8"/>
<line x1="133.80" y1="196.36" x2="136.00" y2="196.36" stroke="#666" stroke-width="0.8"/>
<line x1="133.80" y1="193.28" x2="136.00" y2="193.28" stroke="#666" stroke-width="0.8"/>
<line x1="133.80" y1="190.19" x2="136.00" y2="190.19" stroke="#666" stroke-width="0.8"/>
<line x1="133.80" y1="187.10" x2="136.00" y2="187.10" stroke="#666" stroke-width="0.8"/>
<line x1="133.80" y1="184.01" x2="136.00" y2="184.01" stroke="#666" stroke-width="0.8"/>
<line x1="133.80" y1="180.93" x2="136.00" y2="180.93" stroke="#666" stroke-width="0.8"/>
<text x="176.9" y="179.7" font-size="2.6" text-anchor="middle" fill="#9a9a9a" textLength="24" lengthAdjust="spacingAndGlyphs">Gate: R1 in FSC/SSC-A</text>
<rect x="136.0" y="214.0" width="1.3" height="1.4" fill="#aaa"/>
<rect x="142.7" y="214.0" width="1.3" height="1.4" fill="#aaa"/>
<rect x="146.5" y="214.0" width="1.3" height="1.4" fill="#aaa"/>
<rect x="149.2" y="214.0" width="1.3" height="1.4" fill="#aaa"/>
<rect x="154.4" y="214.0" width="1.3" height="1.4" fill="#aaa"/>
<rect x="173.7" y="214.0" width="1.3" height="1.4" fill="#aaa"/>
<rect x="193.8" y="214.0" width="1.3" height="1.4" fill="#aaa"/>
<rect x="211.8" y="214.0" width="1.3" height="1.4" fill="#aaa"/>
<text x="175.9" y="218.8" font-size="2.6" text-anchor="middle" fill="#b0b0b0" textLength="23" lengthAdjust="spacingAndGlyphs">Streptavidin PE-A</text>
<text transform="translate(132.8,195.9) rotate(-90)" font-size="2.4" text-anchor="middle" fill="#bbb">Count</text>
<path d="M136.50,211.50 L136.50,211.30 L137.00,211.30 L137.50,211.30 L138.01,211.29 L138.51,211.29 L139.01,211.27 L139.51,211.27 L140.01,211.25 L140.51,211.24 L141.02,211.17 L141.52,211.13 L142.02,211.08 L142.52,211.04 L143.02,210.92 L143.53,210.71 L144.03,210.71 L144.53,210.56 L145.03,210.52 L145.53,210.00 L146.03,210.09 L146.54,209.91 L147.04,209.97 L147.54,209.40 L148.04,209.25 L148.54,209.46 L149.05,209.37 L149.55,209.26 L150.05,208.61 L150.55,209.25 L151.05,209.07 L151.55,209.32 L152.06,208.56 L152.56,209.01 L153.06,209.16 L153.56,209.26 L154.06,208.93 L154.57,208.77 L155.07,209.43 L155.57,209.29 L156.07,209.46 L156.57,208.99 L157.07,209.70 L157.58,209.71 L158.08,209.92 L158.58,209.69 L159.08,210.00 L159.58,210.32 L160.09,210.36 L160.59,210.43 L161.09,210.43 L161.59,210.78 L162.09,210.78 L162.59,210.89 L163.10,210.86 L163.60,211.02 L164.10,211.07 L164.60,211.10 L165.10,211.10 L165.61,211.13 L166.11,211.18 L166.61,211.16 L167.11,211.17 L167.61,211.14 L168.11,211.18 L168.62,211.16 L169.12,211.15 L169.62,211.11 L170.12,211.13 L170.62,211.14 L171.13,211.09 L171.63,211.07 L172.13,211.04 L172.63,211.10 L173.13,211.03 L173.63,211.02 L174.14,210.95 L174.64,211.04 L175.14,210.99 L175.64,210.95 L176.14,210.90 L176.65,210.92 L177.15,210.98 L177.65,210.87 L178.15,210.87 L178.65,210.81 L179.15,210.95 L179.66,210.82 L180.16,210.81 L180.66,210.74 L181.16,210.86 L181.66,210.84 L182.17,210.74 L182.67,210.74 L183.17,210.74 L183.67,210.87 L184.17,210.69 L184.67,210.73 L185.18,210.67 L185.68,210.83 L186.18,210.71 L186.68,210.67 L187.18,210.65 L187.69,210.72 L188.19,210.74 L188.69,210.58 L189.19,210.61 L189.69,210.57 L190.19,210.68 L190.70,210.47 L191.20,210.45 L191.70,210.37 L192.20,210.41 L192.70,210.25 L193.21,210.06 L193.71,209.96 L194.21,209.82 L194.71,209.69 L195.21,209.27 L195.71,209.07 L196.22,208.70 L196.72,208.45 L197.22,207.78 L197.72,207.22 L198.22,206.60 L198.73,205.95 L199.23,205.02 L199.73,203.70 L200.23,202.73 L200.73,201.32 L201.23,200.04 L201.74,197.56 L202.24,195.83 L202.74,193.51 L203.24,191.47 L203.74,188.01 L204.25,184.74 L204.75,182.31 L205.25,181.32 L205.75,182.71 L206.25,183.85 L206.75,187.92 L207.26,191.41 L207.76,195.54 L208.26,198.47 L208.76,201.88 L209.26,204.63 L209.77,206.78 L210.27,208.27 L210.77,209.34 L211.27,210.15 L211.77,210.63 L212.27,210.93 L212.78,211.08 L213.28,211.19 L213.78,211.24 L214.28,211.27 L214.78,211.28 L215.29,211.29 L215.79,211.29 L216.29,211.30 L216.79,211.30 L217.29,211.30 L217.79,211.30 L218.30,211.30 L218.80,211.30 L219.30,211.30 L219.30,211.50 Z" fill="#f4666c" stroke="#c43c48" stroke-width="0.45" stroke-linejoin="round"/>
<line x1="136.5" y1="211.20" x2="219.30" y2="211.20" stroke="#c43c48" stroke-width="0.6"/>
<path d="M179.6,211.8 L179.6,180.80 L214.5,180.80 M212.5,180.80 L212.5,211.8" fill="none" stroke="#858585" stroke-width="0.6"/>
<rect x="213.8" y="181.40" width="1.1" height="1.6" fill="#777"/>
<text x="183.2" y="193.5" font-size="6.6" font-weight="bold" text-anchor="start" fill="#222" stroke="#222" stroke-width="0.35" >76%</text>
<rect x="226.2" y="180.0" width="82.40" height="31.40" fill="#fff" stroke="#9a9a9a" stroke-width="0.7"/>
<line x1="224.00" y1="211.40" x2="226.20" y2="211.40" stroke="#666" stroke-width="0.8"/>
<line x1="224.00" y1="208.35" x2="226.20" y2="208.35" stroke="#666" stroke-width="0.8"/>
<line x1="224.00" y1="205.30" x2="226.20" y2="205.30" stroke="#666" stroke-width="0.8"/>
<line x1="224.00" y1="202.25" x2="226.20" y2="202.25" stroke="#666" stroke-width="0.8"/>
<line x1="224.00" y1="199.21" x2="226.20" y2="199.21" stroke="#666" stroke-width="0.8"/>
<line x1="224.00" y1="196.16" x2="226.20" y2="196.16" stroke="#666" stroke-width="0.8"/>
<line x1="224.00" y1="193.11" x2="226.20" y2="193.11" stroke="#666" stroke-width="0.8"/>
<line x1="224.00" y1="190.06" x2="226.20" y2="190.06" stroke="#666" stroke-width="0.8"/>
<line x1="224.00" y1="187.01" x2="226.20" y2="187.01" stroke="#666" stroke-width="0.8"/>
<line x1="224.00" y1="183.96" x2="226.20" y2="183.96" stroke="#666" stroke-width="0.8"/>
<line x1="224.00" y1="180.91" x2="226.20" y2="180.91" stroke="#666" stroke-width="0.8"/>
<text x="266.4" y="179.7" font-size="2.6" text-anchor="middle" fill="#9a9a9a" textLength="24" lengthAdjust="spacingAndGlyphs">Gate: R1 in FSC/SSC-A</text>
<rect x="226.2" y="213.6" width="1.3" height="1.4" fill="#aaa"/>
<rect x="232.8" y="213.6" width="1.3" height="1.4" fill="#aaa"/>
<rect x="236.5" y="213.6" width="1.3" height="1.4" fill="#aaa"/>
<rect x="239.1" y="213.6" width="1.3" height="1.4" fill="#aaa"/>
<rect x="244.3" y="213.6" width="1.3" height="1.4" fill="#aaa"/>
<rect x="263.3" y="213.6" width="1.3" height="1.4" fill="#aaa"/>
<rect x="283.1" y="213.6" width="1.3" height="1.4" fill="#aaa"/>
<rect x="300.8" y="213.6" width="1.3" height="1.4" fill="#aaa"/>
<text x="265.4" y="218.4" font-size="2.6" text-anchor="middle" fill="#b0b0b0" textLength="23" lengthAdjust="spacingAndGlyphs">Streptavidin PE-A</text>
<text transform="translate(223.0,195.7) rotate(-90)" font-size="2.4" text-anchor="middle" fill="#bbb">Count</text>
<path d="M226.70,211.10 L226.70,210.90 L227.20,210.90 L227.70,210.90 L228.21,210.90 L228.71,210.89 L229.21,210.89 L229.71,210.88 L230.22,210.87 L230.72,210.86 L231.22,210.84 L231.72,210.79 L232.23,210.74 L232.73,210.65 L233.23,210.59 L233.73,210.42 L234.24,210.24 L234.74,209.93 L235.24,209.78 L235.74,209.41 L236.25,208.93 L236.75,208.33 L237.25,207.87 L237.75,207.64 L238.26,206.59 L238.76,206.00 L239.26,205.02 L239.76,205.39 L240.27,204.19 L240.77,203.69 L241.27,202.81 L241.77,203.37 L242.28,203.27 L242.78,202.46 L243.28,202.47 L243.78,202.52 L244.29,203.67 L244.79,202.68 L245.29,203.13 L245.79,202.99 L246.30,204.43 L246.80,204.18 L247.30,204.37 L247.80,204.73 L248.31,205.60 L248.81,206.30 L249.31,206.16 L249.81,206.84 L250.32,207.23 L250.82,208.13 L251.32,208.09 L251.82,208.56 L252.33,208.86 L252.83,209.39 L253.33,209.58 L253.83,209.73 L254.34,209.99 L254.84,210.19 L255.34,210.38 L255.84,210.43 L256.35,210.56 L256.85,210.63 L257.35,210.72 L257.85,210.75 L258.36,210.79 L258.86,210.82 L259.36,210.85 L259.86,210.86 L260.37,210.87 L260.87,210.88 L261.37,210.89 L261.87,210.89 L262.38,210.89 L262.88,210.90 L263.38,210.90 L263.88,210.90 L264.39,210.90 L264.89,210.90 L265.39,210.90 L265.89,210.90 L266.40,210.90 L266.90,210.90 L267.40,210.90 L267.90,210.90 L268.40,210.90 L268.91,210.90 L269.41,210.90 L269.91,210.90 L270.41,210.90 L270.92,210.90 L271.42,210.90 L271.92,210.90 L272.42,210.90 L272.93,210.90 L273.43,210.90 L273.93,210.90 L274.43,210.90 L274.94,210.90 L275.44,210.90 L275.94,210.90 L276.44,210.90 L276.95,210.90 L277.45,210.90 L277.95,210.90 L278.45,210.90 L278.96,210.90 L279.46,210.90 L279.96,210.90 L280.46,210.90 L280.97,210.90 L281.47,210.90 L281.97,210.89 L282.47,210.89 L282.98,210.88 L283.48,210.87 L283.98,210.85 L284.48,210.81 L284.99,210.77 L285.49,210.70 L285.99,210.61 L286.49,210.46 L287.00,210.28 L287.50,210.02 L288.00,209.66 L288.50,209.18 L289.01,208.55 L289.51,207.92 L290.01,206.94 L290.51,205.87 L291.02,204.40 L291.52,203.28 L292.02,201.64 L292.52,199.97 L293.03,197.99 L293.53,196.58 L294.03,195.50 L294.53,193.97 L295.04,193.16 L295.54,192.69 L296.04,194.27 L296.54,195.15 L297.05,196.96 L297.55,198.59 L298.05,201.04 L298.55,202.91 L299.06,204.54 L299.56,205.99 L300.06,207.28 L300.56,208.37 L301.07,209.06 L301.57,209.64 L302.07,210.04 L302.57,210.37 L303.08,210.55 L303.58,210.68 L304.08,210.77 L304.58,210.82 L305.09,210.86 L305.59,210.87 L306.09,210.89 L306.59,210.89 L307.10,210.90 L307.60,210.90 L308.10,210.90 L308.10,211.10 Z" fill="#f4666c" stroke="#c43c48" stroke-width="0.45" stroke-linejoin="round"/>
<line x1="226.7" y1="210.80" x2="308.10" y2="210.80" stroke="#c43c48" stroke-width="0.6"/>
<path d="M268.3,211.4 L268.3,180.80 L305.0,180.80 M303.0,180.80 L303.0,211.4" fill="none" stroke="#858585" stroke-width="0.6"/>
<rect x="304.3" y="181.40" width="1.1" height="1.6" fill="#777"/>
<text x="270.4" y="193.5" font-size="6.6" font-weight="bold" text-anchor="start" fill="#222" stroke="#222" stroke-width="0.35" >61%</text>
<rect x="315.6" y="179.2" width="84.90" height="32.00" fill="#fff" stroke="#9a9a9a" stroke-width="0.7"/>
<line x1="313.40" y1="211.20" x2="315.60" y2="211.20" stroke="#666" stroke-width="0.8"/>
<line x1="313.40" y1="208.09" x2="315.60" y2="208.09" stroke="#666" stroke-width="0.8"/>
<line x1="313.40" y1="204.99" x2="315.60" y2="204.99" stroke="#666" stroke-width="0.8"/>
<line x1="313.40" y1="201.88" x2="315.60" y2="201.88" stroke="#666" stroke-width="0.8"/>
<line x1="313.40" y1="198.77" x2="315.60" y2="198.77" stroke="#666" stroke-width="0.8"/>
<line x1="313.40" y1="195.67" x2="315.60" y2="195.67" stroke="#666" stroke-width="0.8"/>
<line x1="313.40" y1="192.56" x2="315.60" y2="192.56" stroke="#666" stroke-width="0.8"/>
<line x1="313.40" y1="189.45" x2="315.60" y2="189.45" stroke="#666" stroke-width="0.8"/>
<line x1="313.40" y1="186.35" x2="315.60" y2="186.35" stroke="#666" stroke-width="0.8"/>
<line x1="313.40" y1="183.24" x2="315.60" y2="183.24" stroke="#666" stroke-width="0.8"/>
<line x1="313.40" y1="180.13" x2="315.60" y2="180.13" stroke="#666" stroke-width="0.8"/>
<text x="357.1" y="178.9" font-size="2.6" text-anchor="middle" fill="#9a9a9a" textLength="24" lengthAdjust="spacingAndGlyphs">Gate: R1 in FSC/SSC-A</text>
<rect x="315.6" y="213.4" width="1.3" height="1.4" fill="#aaa"/>
<rect x="322.4" y="213.4" width="1.3" height="1.4" fill="#aaa"/>
<rect x="326.2" y="213.4" width="1.3" height="1.4" fill="#aaa"/>
<rect x="328.9" y="213.4" width="1.3" height="1.4" fill="#aaa"/>
<rect x="334.3" y="213.4" width="1.3" height="1.4" fill="#aaa"/>
<rect x="353.8" y="213.4" width="1.3" height="1.4" fill="#aaa"/>
<rect x="374.2" y="213.4" width="1.3" height="1.4" fill="#aaa"/>
<rect x="392.4" y="213.4" width="1.3" height="1.4" fill="#aaa"/>
<text x="356.1" y="218.2" font-size="2.6" text-anchor="middle" fill="#b0b0b0" textLength="23" lengthAdjust="spacingAndGlyphs">Streptavidin PE-A</text>
<text transform="translate(312.4,195.2) rotate(-90)" font-size="2.4" text-anchor="middle" fill="#bbb">Count</text>
<path d="M316.10,210.90 L316.10,210.70 L316.60,210.70 L317.10,210.70 L317.61,210.70 L318.11,210.70 L318.61,210.70 L319.11,210.70 L319.62,210.69 L320.12,210.69 L320.62,210.68 L321.12,210.67 L321.63,210.65 L322.13,210.63 L322.63,210.59 L323.13,210.50 L323.64,210.42 L324.14,210.27 L324.64,210.14 L325.14,209.76 L325.65,209.45 L326.15,209.00 L326.65,208.60 L327.15,207.75 L327.66,206.61 L328.16,205.95 L328.66,204.87 L329.16,204.02 L329.66,201.35 L330.17,200.89 L330.67,199.38 L331.17,199.17 L331.67,196.17 L332.18,195.42 L332.68,195.49 L333.18,195.57 L333.68,195.03 L334.19,193.50 L334.69,196.00 L335.19,196.49 L335.69,198.36 L336.20,197.54 L336.70,200.14 L337.20,201.61 L337.70,203.38 L338.21,203.95 L338.71,205.12 L339.21,206.68 L339.71,207.52 L340.21,208.29 L340.72,208.65 L341.22,209.41 L341.72,209.74 L342.22,210.06 L342.73,210.20 L343.23,210.39 L343.73,210.50 L344.23,210.57 L344.74,210.62 L345.24,210.65 L345.74,210.67 L346.24,210.68 L346.75,210.69 L347.25,210.69 L347.75,210.70 L348.25,210.70 L348.76,210.70 L349.26,210.70 L349.76,210.70 L350.26,210.70 L350.77,210.70 L351.27,210.70 L351.77,210.70 L352.27,210.70 L352.77,210.70 L353.28,210.70 L353.78,210.70 L354.28,210.70 L354.78,210.70 L355.29,210.70 L355.79,210.70 L356.29,210.70 L356.79,210.70 L357.30,210.70 L357.80,210.70 L358.30,210.70 L358.80,210.70 L359.31,210.70 L359.81,210.70 L360.31,210.70 L360.81,210.70 L361.32,210.70 L361.82,210.70 L362.32,210.70 L362.82,210.70 L363.33,210.69 L363.83,210.69 L364.33,210.69 L364.83,210.68 L365.33,210.67 L365.84,210.65 L366.34,210.62 L366.84,210.59 L367.34,210.54 L367.85,210.48 L368.35,210.38 L368.85,210.27 L369.35,210.11 L369.86,209.96 L370.36,209.69 L370.86,209.40 L371.36,209.03 L371.87,208.69 L372.37,208.21 L372.87,207.61 L373.37,207.02 L373.88,206.40 L374.38,205.87 L374.88,204.94 L375.38,204.31 L375.89,203.55 L376.39,203.23 L376.89,202.42 L377.39,201.89 L377.89,201.52 L378.40,201.49 L378.90,201.43 L379.40,201.22 L379.90,201.87 L380.41,202.66 L380.91,203.95 L381.41,204.79 L381.91,206.03 L382.42,207.10 L382.92,208.14 L383.42,208.85 L383.92,209.43 L384.43,209.89 L384.93,210.20 L385.43,210.41 L385.93,210.52 L386.44,210.61 L386.94,210.65 L387.44,210.68 L387.94,210.69 L388.44,210.69 L388.95,210.70 L389.45,210.70 L389.95,210.70 L390.45,210.70 L390.96,210.70 L391.46,210.70 L391.96,210.70 L392.46,210.70 L392.97,210.70 L393.47,210.70 L393.97,210.70 L394.47,210.70 L394.98,210.70 L395.48,210.70 L395.98,210.70 L396.48,210.70 L396.99,210.70 L397.49,210.70 L397.99,210.70 L398.49,210.70 L399.00,210.70 L399.50,210.70 L400.00,210.70 L400.00,210.90 Z" fill="#f4666c" stroke="#c43c48" stroke-width="0.45" stroke-linejoin="round"/>
<line x1="316.1" y1="210.60" x2="400.00" y2="210.60" stroke="#c43c48" stroke-width="0.6"/>
<path d="M358.3,211.2 L358.3,180.00 L394.8,180.00 M392.8,180.00 L392.8,211.2" fill="none" stroke="#858585" stroke-width="0.6"/>
<rect x="394.1" y="180.60" width="1.1" height="1.6" fill="#777"/>
<text x="363.8" y="193.5" font-size="6.6" font-weight="bold" text-anchor="start" fill="#222" stroke="#222" stroke-width="0.35" >31%</text>
<rect x="408.3" y="176.7" width="85.10" height="32.80" fill="#fff" stroke="#9a9a9a" stroke-width="0.7"/>
<line x1="406.10" y1="209.50" x2="408.30" y2="209.50" stroke="#666" stroke-width="0.8"/>
<line x1="406.10" y1="206.32" x2="408.30" y2="206.32" stroke="#666" stroke-width="0.8"/>
<line x1="406.10" y1="203.13" x2="408.30" y2="203.13" stroke="#666" stroke-width="0.8"/>
<line x1="406.10" y1="199.95" x2="408.30" y2="199.95" stroke="#666" stroke-width="0.8"/>
<line x1="406.10" y1="196.76" x2="408.30" y2="196.76" stroke="#666" stroke-width="0.8"/>
<line x1="406.10" y1="193.58" x2="408.30" y2="193.58" stroke="#666" stroke-width="0.8"/>
<line x1="406.10" y1="190.39" x2="408.30" y2="190.39" stroke="#666" stroke-width="0.8"/>
<line x1="406.10" y1="187.21" x2="408.30" y2="187.21" stroke="#666" stroke-width="0.8"/>
<line x1="406.10" y1="184.02" x2="408.30" y2="184.02" stroke="#666" stroke-width="0.8"/>
<line x1="406.10" y1="180.84" x2="408.30" y2="180.84" stroke="#666" stroke-width="0.8"/>
<line x1="406.10" y1="177.66" x2="408.30" y2="177.66" stroke="#666" stroke-width="0.8"/>
<text x="449.9" y="176.4" font-size="2.6" text-anchor="middle" fill="#9a9a9a" textLength="24" lengthAdjust="spacingAndGlyphs">Gate: R1 in FSC/SSC-A</text>
<rect x="408.3" y="211.7" width="1.3" height="1.4" fill="#aaa"/>
<rect x="415.1" y="211.7" width="1.3" height="1.4" fill="#aaa"/>
<rect x="418.9" y="211.7" width="1.3" height="1.4" fill="#aaa"/>
<rect x="421.7" y="211.7" width="1.3" height="1.4" fill="#aaa"/>
<rect x="427.0" y="211.7" width="1.3" height="1.4" fill="#aaa"/>
<rect x="446.6" y="211.7" width="1.3" height="1.4" fill="#aaa"/>
<rect x="467.0" y="211.7" width="1.3" height="1.4" fill="#aaa"/>
<rect x="485.3" y="211.7" width="1.3" height="1.4" fill="#aaa"/>
<text x="448.9" y="216.5" font-size="2.6" text-anchor="middle" fill="#b0b0b0" textLength="23" lengthAdjust="spacingAndGlyphs">Streptavidin PE-A</text>
<text transform="translate(405.1,193.1) rotate(-90)" font-size="2.4" text-anchor="middle" fill="#bbb">Count</text>
<path d="M408.80,209.20 L408.80,208.99 L409.30,208.98 L409.80,208.97 L410.30,208.94 L410.80,208.92 L411.30,208.87 L411.80,208.80 L412.30,208.66 L412.80,208.58 L413.31,208.38 L413.81,208.15 L414.31,207.68 L414.81,207.35 L415.31,207.04 L415.81,206.29 L416.31,205.50 L416.81,204.31 L417.31,204.36 L417.81,202.86 L418.31,201.97 L418.81,199.79 L419.31,200.11 L419.81,199.14 L420.31,197.69 L420.81,196.06 L421.31,195.38 L421.82,196.86 L422.32,194.68 L422.82,194.62 L423.32,192.93 L423.82,195.89 L424.32,194.66 L424.82,194.55 L425.32,193.50 L425.82,195.21 L426.32,196.47 L426.82,195.32 L427.32,195.88 L427.82,195.97 L428.32,198.91 L428.82,197.92 L429.32,198.89 L429.82,198.90 L430.33,201.22 L430.83,201.68 L431.33,201.93 L431.83,202.64 L432.33,203.61 L432.83,204.92 L433.33,204.82 L433.83,205.59 L434.33,205.96 L434.83,206.93 L435.33,207.04 L435.83,207.38 L436.33,207.66 L436.83,208.04 L437.33,208.27 L437.83,208.35 L438.34,208.52 L438.84,208.63 L439.34,208.77 L439.84,208.79 L440.34,208.85 L440.84,208.89 L441.34,208.93 L441.84,208.95 L442.34,208.96 L442.84,208.98 L443.34,208.98 L443.84,208.99 L444.34,208.99 L444.84,209.00 L445.34,209.00 L445.84,209.00 L446.34,209.00 L446.85,209.00 L447.35,209.00 L447.85,209.00 L448.35,209.00 L448.85,209.00 L449.35,209.00 L449.85,209.00 L450.35,209.00 L450.85,209.00 L451.35,209.00 L451.85,209.00 L452.35,209.00 L452.85,209.00 L453.35,209.00 L453.85,209.00 L454.35,209.00 L454.85,209.00 L455.36,209.00 L455.86,209.00 L456.36,209.00 L456.86,209.00 L457.36,209.00 L457.86,209.00 L458.36,209.00 L458.86,209.00 L459.36,209.00 L459.86,209.00 L460.36,209.00 L460.86,209.00 L461.36,208.99 L461.86,208.99 L462.36,208.98 L462.86,208.96 L463.36,208.93 L463.87,208.87 L464.37,208.79 L464.87,208.72 L465.37,208.57 L465.87,208.38 L466.37,207.99 L466.87,207.85 L467.37,207.45 L467.87,207.16 L468.37,206.34 L468.87,206.08 L469.37,205.87 L469.87,205.48 L470.37,204.97 L470.87,204.37 L471.37,205.02 L471.88,204.69 L472.38,204.89 L472.88,204.35 L473.38,205.33 L473.88,205.73 L474.38,206.24 L474.88,206.49 L475.38,207.08 L475.88,207.76 L476.38,208.06 L476.88,208.37 L477.38,208.54 L477.88,208.78 L478.38,208.86 L478.88,208.93 L479.38,208.96 L479.88,208.98 L480.39,208.99 L480.89,209.00 L481.39,209.00 L481.89,209.00 L482.39,209.00 L482.89,209.00 L483.39,209.00 L483.89,209.00 L484.39,209.00 L484.89,209.00 L485.39,209.00 L485.89,209.00 L486.39,209.00 L486.89,209.00 L487.39,209.00 L487.89,209.00 L488.39,209.00 L488.90,209.00 L489.40,209.00 L489.90,209.00 L490.40,209.00 L490.90,209.00 L491.40,209.00 L491.90,209.00 L492.40,209.00 L492.90,209.00 L492.90,209.20 Z" fill="#f4666c" stroke="#c43c48" stroke-width="0.45" stroke-linejoin="round"/>
<line x1="408.8" y1="208.90" x2="492.90" y2="208.90" stroke="#c43c48" stroke-width="0.6"/>
<path d="M452.8,209.5 L452.8,177.50 L489.4,177.50 M487.4,177.50 L487.4,209.5" fill="none" stroke="#858585" stroke-width="0.6"/>
<rect x="488.7" y="178.10" width="1.1" height="1.6" fill="#777"/>
<text x="459.2" y="193.5" font-size="6.6" font-weight="bold" text-anchor="start" fill="#222" stroke="#222" stroke-width="0.35" >9%</text>
<text x="3.6" y="238.5" font-size="11.6" font-weight="bold" text-anchor="start" fill="#000" stroke="#000" stroke-width="0.25" >C</text>
<line x1="62.2" y1="238.00" x2="62.2" y2="351.9" stroke="#000" stroke-width="1.5"/>
<line x1="61.5" y1="351.2" x2="215.30" y2="351.2" stroke="#000" stroke-width="1.5"/>
<line x1="59" y1="351.20" x2="62.2" y2="351.20" stroke="#000" stroke-width="1.1"/>
<text x="58.0" y="353.59999999999997" font-size="6.8" font-weight="bold" text-anchor="end" fill="#000" stroke="#000" stroke-width="0.25" >0</text>
<line x1="59" y1="340.95" x2="62.2" y2="340.95" stroke="#000" stroke-width="1.1"/>
<text x="58.0" y="343.35499999999996" font-size="6.8" font-weight="bold" text-anchor="end" fill="#000" stroke="#000" stroke-width="0.25" >10</text>
<line x1="59" y1="330.71" x2="62.2" y2="330.71" stroke="#000" stroke-width="1.1"/>
<text x="58.0" y="333.10999999999996" font-size="6.8" font-weight="bold" text-anchor="end" fill="#000" stroke="#000" stroke-width="0.25" >20</text>
<line x1="59" y1="320.46" x2="62.2" y2="320.46" stroke="#000" stroke-width="1.1"/>
<text x="58.0" y="322.86499999999995" font-size="6.8" font-weight="bold" text-anchor="end" fill="#000" stroke="#000" stroke-width="0.25" >30</text>
<line x1="59" y1="310.22" x2="62.2" y2="310.22" stroke="#000" stroke-width="1.1"/>
<text x="58.0" y="312.61999999999995" font-size="6.8" font-weight="bold" text-anchor="end" fill="#000" stroke="#000" stroke-width="0.25" >40</text>
<line x1="59" y1="299.97" x2="62.2" y2="299.97" stroke="#000" stroke-width="1.1"/>
<text x="58.0" y="302.37499999999994" font-size="6.8" font-weight="bold" text-anchor="end" fill="#000" stroke="#000" stroke-width="0.25" >50</text>
<line x1="59" y1="289.73" x2="62.2" y2="289.73" stroke="#000" stroke-width="1.1"/>
<text x="58.0" y="292.13" font-size="6.8" font-weight="bold" text-anchor="end" fill="#000" stroke="#000" stroke-width="0.25" >60</text>
<line x1="59" y1="279.49" x2="62.2" y2="279.49" stroke="#000" stroke-width="1.1"/>
<text x="58.0" y="281.885" font-size="6.8" font-weight="bold" text-anchor="end" fill="#000" stroke="#000" stroke-width="0.25" >70</text>
<line x1="59" y1="269.24" x2="62.2" y2="269.24" stroke="#000" stroke-width="1.1"/>
<text x="58.0" y="271.64" font-size="6.8" font-weight="bold" text-anchor="end" fill="#000" stroke="#000" stroke-width="0.25" >80</text>
<line x1="59" y1="259.00" x2="62.2" y2="259.00" stroke="#000" stroke-width="1.1"/>
<text x="58.0" y="261.395" font-size="6.8" font-weight="bold" text-anchor="end" fill="#000" stroke="#000" stroke-width="0.25" >90</text>
<line x1="59" y1="248.75" x2="62.2" y2="248.75" stroke="#000" stroke-width="1.1"/>
<text x="58.0" y="251.15" font-size="6.8" font-weight="bold" text-anchor="end" fill="#000" stroke="#000" stroke-width="0.25" >100</text>
<line x1="59" y1="238.50" x2="62.2" y2="238.50" stroke="#000" stroke-width="1.1"/>
<text x="58.0" y="240.905" font-size="6.8" font-weight="bold" text-anchor="end" fill="#000" stroke="#000" stroke-width="0.25" >110</text>
<line x1="62.20" y1="351.2" x2="62.20" y2="354.6" stroke="#000" stroke-width="1.1"/>
<text x="62.2" y="362.4" font-size="6.8" font-weight="bold" text-anchor="middle" fill="#000" stroke="#000" stroke-width="0.25" >0</text>
<line x1="81.25" y1="351.2" x2="81.25" y2="354.6" stroke="#000" stroke-width="1.1"/>
<text x="81.25" y="362.4" font-size="6.8" font-weight="bold" text-anchor="middle" fill="#000" stroke="#000" stroke-width="0.25" >5</text>
<line x1="100.30" y1="351.2" x2="100.30" y2="354.6" stroke="#000" stroke-width="1.1"/>
<text x="100.30000000000001" y="362.4" font-size="6.8" font-weight="bold" text-anchor="middle" fill="#000" stroke="#000" stroke-width="0.25" >10</text>
<line x1="119.35" y1="351.2" x2="119.35" y2="354.6" stroke="#000" stroke-width="1.1"/>
<text x="119.35" y="362.4" font-size="6.8" font-weight="bold" text-anchor="middle" fill="#000" stroke="#000" stroke-width="0.25" >15</text>
<line x1="138.40" y1="351.2" x2="138.40" y2="354.6" stroke="#000" stroke-width="1.1"/>
<text x="138.4" y="362.4" font-size="6.8" font-weight="bold" text-anchor="middle" fill="#000" stroke="#000" stroke-width="0.25" >20</text>
<line x1="157.45" y1="351.2" x2="157.45" y2="354.6" stroke="#000" stroke-width="1.1"/>
<text x="157.45" y="362.4" font-size="6.8" font-weight="bold" text-anchor="middle" fill="#000" stroke="#000" stroke-width="0.25" >25</text>
<line x1="176.50" y1="351.2" x2="176.50" y2="354.6" stroke="#000" stroke-width="1.1"/>
<text x="176.5" y="362.4" font-size="6.8" font-weight="bold" text-anchor="middle" fill="#000" stroke="#000" stroke-width="0.25" >30</text>
<line x1="195.55" y1="351.2" x2="195.55" y2="354.6" stroke="#000" stroke-width="1.1"/>
<text x="195.55" y="362.4" font-size="6.8" font-weight="bold" text-anchor="middle" fill="#000" stroke="#000" stroke-width="0.25" >35</text>
<line x1="214.60" y1="351.2" x2="214.60" y2="354.6" stroke="#000" stroke-width="1.1"/>
<text x="214.60000000000002" y="362.4" font-size="6.8" font-weight="bold" text-anchor="middle" fill="#000" stroke="#000" stroke-width="0.25" >40</text>
<text x="171" y="371.8" font-size="7.15" font-weight="bold" text-anchor="middle" fill="#000" stroke="#000" stroke-width="0.25" >Days post final biotin injection</text>
<text transform="translate(42.3,294.3) rotate(-90)" font-size="7.6" font-weight="bold" text-anchor="middle" fill="#000">% total RBCs</text>
<line x1="62.2" y1="299.97" x2="125.5" y2="299.97" stroke="#aaa" stroke-width="0.9"/>
<path d="M62.20,248.75 L69.82,255.92 L77.44,264.12 L88.87,271.29 L96.49,281.02 L104.11,292.29 L115.54,303.56 L142.21,322.00 L157.45,334.30 L168.88,342.70 L199.36,343.52" fill="none" stroke="#8e8e8e" stroke-width="1.4" stroke-linejoin="round"/>
<rect x="60.30" y="246.85" width="3.8" height="3.8" fill="#aaa" stroke="#888" stroke-width="0.6"/>
<rect x="67.92" y="254.02" width="3.8" height="3.8" fill="#aaa" stroke="#888" stroke-width="0.6"/>
<rect x="75.54" y="262.22" width="3.8" height="3.8" fill="#aaa" stroke="#888" stroke-width="0.6"/>
<rect x="86.97" y="269.39" width="3.8" height="3.8" fill="#aaa" stroke="#888" stroke-width="0.6"/>
<rect x="94.59" y="279.12" width="3.8" height="3.8" fill="#aaa" stroke="#888" stroke-width="0.6"/>
<rect x="102.21" y="290.39" width="3.8" height="3.8" fill="#aaa" stroke="#888" stroke-width="0.6"/>
<rect x="113.64" y="301.66" width="3.8" height="3.8" fill="#aaa" stroke="#888" stroke-width="0.6"/>
<rect x="140.31" y="320.10" width="3.8" height="3.8" fill="#aaa" stroke="#888" stroke-width="0.6"/>
<rect x="155.55" y="332.40" width="3.8" height="3.8" fill="#aaa" stroke="#888" stroke-width="0.6"/>
<rect x="166.98" y="340.80" width="3.8" height="3.8" fill="#aaa" stroke="#888" stroke-width="0.6"/>
<rect x="197.46" y="341.62" width="3.8" height="3.8" fill="#aaa" stroke="#888" stroke-width="0.6"/>
<path d="M62.20,248.75 L69.82,256.95 L77.44,265.14 L88.87,274.36 L96.49,283.58 L104.11,294.85 L115.54,306.12 L142.21,323.03 L157.45,335.32 L168.88,343.52 L199.36,344.54" fill="none" stroke="#8e8e8e" stroke-width="1.4" stroke-linejoin="round"/>
<path d="M62.20,246.65 L64.30,250.25 L60.10,250.25 Z" fill="#aaa" stroke="#888" stroke-width="0.6"/>
<path d="M69.82,254.85 L71.92,258.45 L67.72,258.45 Z" fill="#aaa" stroke="#888" stroke-width="0.6"/>
<path d="M77.44,263.04 L79.54,266.64 L75.34,266.64 Z" fill="#aaa" stroke="#888" stroke-width="0.6"/>
<path d="M88.87,272.26 L90.97,275.86 L86.77,275.86 Z" fill="#aaa" stroke="#888" stroke-width="0.6"/>
<path d="M96.49,281.48 L98.59,285.08 L94.39,285.08 Z" fill="#aaa" stroke="#888" stroke-width="0.6"/>
<path d="M104.11,292.75 L106.21,296.35 L102.01,296.35 Z" fill="#aaa" stroke="#888" stroke-width="0.6"/>
<path d="M115.54,304.02 L117.64,307.62 L113.44,307.62 Z" fill="#aaa" stroke="#888" stroke-width="0.6"/>
<path d="M142.21,320.93 L144.31,324.53 L140.11,324.53 Z" fill="#aaa" stroke="#888" stroke-width="0.6"/>
<path d="M157.45,333.22 L159.55,336.82 L155.35,336.82 Z" fill="#aaa" stroke="#888" stroke-width="0.6"/>
<path d="M168.88,341.42 L170.98,345.02 L166.78,345.02 Z" fill="#aaa" stroke="#888" stroke-width="0.6"/>
<path d="M199.36,342.44 L201.46,346.04 L197.26,346.04 Z" fill="#aaa" stroke="#888" stroke-width="0.6"/>
<path d="M62.20,248.75 L69.82,262.07 L77.44,268.22 L88.87,283.58 L96.49,292.80 L104.11,304.59 L115.54,316.88 L142.21,338.39 L157.45,342.49 L168.88,345.57 L199.36,347.61" fill="none" stroke="#000" stroke-width="1.4" stroke-linejoin="round"/>
<circle cx="62.20" cy="248.75" r="1.4" fill="#000"/>
<circle cx="69.82" cy="262.07" r="1.4" fill="#000"/>
<circle cx="77.44" cy="268.22" r="1.4" fill="#000"/>
<circle cx="88.87" cy="283.58" r="1.4" fill="#000"/>
<circle cx="96.49" cy="292.80" r="1.4" fill="#000"/>
<circle cx="104.11" cy="304.59" r="1.4" fill="#000"/>
<circle cx="115.54" cy="316.88" r="1.4" fill="#000"/>
<circle cx="142.21" cy="338.39" r="1.4" fill="#000"/>
<circle cx="157.45" cy="342.49" r="1.4" fill="#000"/>
<circle cx="168.88" cy="345.57" r="1.4" fill="#000"/>
<circle cx="199.36" cy="347.61" r="1.4" fill="#000"/>
<path d="M62.20,248.75 L69.82,264.12 L77.44,269.24 L88.87,289.22 L96.49,301.00 L104.11,310.22 L115.54,322.51 L142.21,339.42 L157.45,344.03 L168.88,346.59 L199.36,348.64" fill="none" stroke="#000" stroke-width="1.4" stroke-linejoin="round"/>
<path d="M62.20,247.25 L63.50,248.75 L62.20,250.25 L60.90,248.75 Z" fill="#000"/>
<path d="M69.82,262.62 L71.12,264.12 L69.82,265.62 L68.52,264.12 Z" fill="#000"/>
<path d="M77.44,267.74 L78.74,269.24 L77.44,270.74 L76.14,269.24 Z" fill="#000"/>
<path d="M88.87,287.72 L90.17,289.22 L88.87,290.72 L87.57,289.22 Z" fill="#000"/>
<path d="M96.49,299.50 L97.79,301.00 L96.49,302.50 L95.19,301.00 Z" fill="#000"/>
<path d="M104.11,308.72 L105.41,310.22 L104.11,311.72 L102.81,310.22 Z" fill="#000"/>
<path d="M115.54,321.01 L116.84,322.51 L115.54,324.01 L114.24,322.51 Z" fill="#000"/>
<path d="M142.21,337.92 L143.51,339.42 L142.21,340.92 L140.91,339.42 Z" fill="#000"/>
<path d="M157.45,342.53 L158.75,344.03 L157.45,345.53 L156.15,344.03 Z" fill="#000"/>
<path d="M168.88,345.09 L170.18,346.59 L168.88,348.09 L167.58,346.59 Z" fill="#000"/>
<path d="M199.36,347.14 L200.66,348.64 L199.36,350.14 L198.06,348.64 Z" fill="#000"/>
<path d="M62.20,248.75 L69.82,261.04 L77.44,267.19 L88.87,293.83 L96.49,305.10 L104.11,314.32 L115.54,326.61 L142.21,340.44 L157.45,345.05 L168.88,347.61 L199.36,349.15" fill="none" stroke="#000" stroke-width="1.4" stroke-linejoin="round"/>
<circle cx="62.20" cy="248.75" r="1.4" fill="#000"/>
<circle cx="69.82" cy="261.04" r="1.4" fill="#000"/>
<circle cx="77.44" cy="267.19" r="1.4" fill="#000"/>
<circle cx="88.87" cy="293.83" r="1.4" fill="#000"/>
<circle cx="96.49" cy="305.10" r="1.4" fill="#000"/>
<circle cx="104.11" cy="314.32" r="1.4" fill="#000"/>
<circle cx="115.54" cy="326.61" r="1.4" fill="#000"/>
<circle cx="142.21" cy="340.44" r="1.4" fill="#000"/>
<circle cx="157.45" cy="345.05" r="1.4" fill="#000"/>
<circle cx="168.88" cy="347.61" r="1.4" fill="#000"/>
<circle cx="199.36" cy="349.15" r="1.4" fill="#000"/>
<line x1="158.7" y1="244.5" x2="173.8" y2="244.5" stroke="#8e8e8e" stroke-width="1.4"/>
<rect x="164.50" y="242.50" width="4.0" height="4.0" fill="#aaa" stroke="#888" stroke-width="0.6"/>
<text x="176" y="246.7" font-size="6.0" font-weight="bold" text-anchor="start" fill="#000" stroke="#000" stroke-width="0.2" >Control 1</text>
<line x1="158.7" y1="254.2" x2="173.8" y2="254.2" stroke="#8e8e8e" stroke-width="1.4"/>
<path d="M166.50,252.00 L168.70,255.80 L164.30,255.80 Z" fill="#aaa" stroke="#888" stroke-width="0.6"/>
<text x="176" y="256.4" font-size="6.0" font-weight="bold" text-anchor="start" fill="#000" stroke="#000" stroke-width="0.2" >Control 2</text>
<line x1="158.7" y1="264.5" x2="173.8" y2="264.5" stroke="#000" stroke-width="1.4"/>
<circle cx="166.50" cy="264.50" r="1.4" fill="#000"/>
<text x="176" y="266.7" font-size="6.0" font-weight="bold" text-anchor="start" fill="#000" stroke="#000" stroke-width="0.2" >Zymosan 1</text>
<line x1="158.7" y1="274.8" x2="173.8" y2="274.8" stroke="#000" stroke-width="1.4"/>
<path d="M166.50,273.30 L167.80,274.80 L166.50,276.30 L165.20,274.80 Z" fill="#000"/>
<text x="176" y="277.0" font-size="6.0" font-weight="bold" text-anchor="start" fill="#000" stroke="#000" stroke-width="0.2" >Zymosan 2</text>
<line x1="158.7" y1="285.8" x2="173.8" y2="285.8" stroke="#000" stroke-width="1.4"/>
<circle cx="166.50" cy="285.80" r="1.4" fill="#000"/>
<text x="176" y="288.0" font-size="6.0" font-weight="bold" text-anchor="start" fill="#000" stroke="#000" stroke-width="0.2" >Zymosan 3</text>
<text x="263" y="238.9" font-size="11.6" font-weight="bold" text-anchor="start" fill="#000" stroke="#000" stroke-width="0.25" >D</text>
<line x1="314.2" y1="235.90" x2="314.2" y2="352.3" stroke="#000" stroke-width="1.5"/>
<line x1="313.5" y1="351.6" x2="469.22" y2="351.6" stroke="#000" stroke-width="1.5"/>
<line x1="311" y1="351.60" x2="314.2" y2="351.60" stroke="#000" stroke-width="1.1"/>
<text x="310.8" y="354.0" font-size="6.8" font-weight="bold" text-anchor="end" fill="#000" stroke="#000" stroke-width="0.25" >5.0</text>
<line x1="311" y1="322.80" x2="314.2" y2="322.80" stroke="#000" stroke-width="1.1"/>
<text x="310.8" y="325.2" font-size="6.8" font-weight="bold" text-anchor="end" fill="#000" stroke="#000" stroke-width="0.25" >7.5</text>
<line x1="311" y1="294.00" x2="314.2" y2="294.00" stroke="#000" stroke-width="1.1"/>
<text x="310.8" y="296.4" font-size="6.8" font-weight="bold" text-anchor="end" fill="#000" stroke="#000" stroke-width="0.25" >10.0</text>
<line x1="311" y1="265.20" x2="314.2" y2="265.20" stroke="#000" stroke-width="1.1"/>
<text x="310.8" y="267.6" font-size="6.8" font-weight="bold" text-anchor="end" fill="#000" stroke="#000" stroke-width="0.25" >12.5</text>
<line x1="311" y1="236.40" x2="314.2" y2="236.40" stroke="#000" stroke-width="1.1"/>
<text x="310.8" y="238.80000000000004" font-size="6.8" font-weight="bold" text-anchor="end" fill="#000" stroke="#000" stroke-width="0.25" >15.0</text>
<line x1="314.30" y1="351.6" x2="314.30" y2="355" stroke="#000" stroke-width="1.1"/>
<text x="314.3" y="362.9" font-size="6.8" font-weight="bold" text-anchor="middle" fill="#000" stroke="#000" stroke-width="0.25" >8</text>
<line x1="340.02" y1="351.6" x2="340.02" y2="355" stroke="#000" stroke-width="1.1"/>
<text x="340.02" y="362.9" font-size="6.8" font-weight="bold" text-anchor="middle" fill="#000" stroke="#000" stroke-width="0.25" >9</text>
<line x1="365.74" y1="351.6" x2="365.74" y2="355" stroke="#000" stroke-width="1.1"/>
<text x="365.74" y="362.9" font-size="6.8" font-weight="bold" text-anchor="middle" fill="#000" stroke="#000" stroke-width="0.25" >10</text>
<line x1="391.46" y1="351.6" x2="391.46" y2="355" stroke="#000" stroke-width="1.1"/>
<text x="391.46000000000004" y="362.9" font-size="6.8" font-weight="bold" text-anchor="middle" fill="#000" stroke="#000" stroke-width="0.25" >11</text>
<line x1="417.18" y1="351.6" x2="417.18" y2="355" stroke="#000" stroke-width="1.1"/>
<text x="417.18" y="362.9" font-size="6.8" font-weight="bold" text-anchor="middle" fill="#000" stroke="#000" stroke-width="0.25" >12</text>
<line x1="442.90" y1="351.6" x2="442.90" y2="355" stroke="#000" stroke-width="1.1"/>
<text x="442.9" y="362.9" font-size="6.8" font-weight="bold" text-anchor="middle" fill="#000" stroke="#000" stroke-width="0.25" >13</text>
<line x1="468.62" y1="351.6" x2="468.62" y2="355" stroke="#000" stroke-width="1.1"/>
<text x="468.62" y="362.9" font-size="6.8" font-weight="bold" text-anchor="middle" fill="#000" stroke="#000" stroke-width="0.25" >14</text>
<text x="430.3" y="373.6" font-size="7.4" font-weight="bold" text-anchor="middle" fill="#000" stroke="#000" stroke-width="0.25" >Hb (g/dL)</text>
<text transform="translate(289.8,293.5) rotate(-90)" font-size="8.4" font-weight="bold" text-anchor="middle" fill="#000">Half-life (days)</text>
<line x1="350.8" y1="335" x2="432.9" y2="254.8" stroke="#000" stroke-width="1.5"/>
<rect x="348.90" y="327.90" width="3.8" height="3.8" fill="#000"/>
<rect x="366.90" y="316.20" width="3.8" height="3.8" fill="#000"/>
<rect x="385.00" y="306.20" width="3.8" height="3.8" fill="#000"/>
<rect x="423.30" y="255.80" width="3.8" height="3.8" fill="#000"/>
<rect x="431.00" y="252.30" width="3.8" height="3.8" fill="#000"/>
<text x="390.6" y="259.8" font-size="6.9" font-weight="bold" text-anchor="start" fill="#000" stroke="#000" stroke-width="0.25" >Control 1</text>
<text x="440" y="255.4" font-size="6.9" font-weight="bold" text-anchor="start" fill="#000" stroke="#000" stroke-width="0.25" >Control 2</text>
<text x="328.1" y="313.4" font-size="7.0" font-weight="bold" text-anchor="start" fill="#000" stroke="#000" stroke-width="0.25" >Zymosan 2</text>
<text x="357.2" y="338.6" font-size="7.0" font-weight="bold" text-anchor="start" fill="#000" stroke="#000" stroke-width="0.25" >Zymosan 1</text>
<text x="391.3" y="303.2" font-size="7.0" font-weight="bold" text-anchor="start" fill="#000" stroke="#000" stroke-width="0.25" >Zymosan 3</text>
<text x="473.2" y="321.4" font-size="9.8" fill="#000" stroke="#000" stroke-width="0.2"><tspan font-style="italic">P</tspan> = .0014</text>
</svg>
</body></html>
